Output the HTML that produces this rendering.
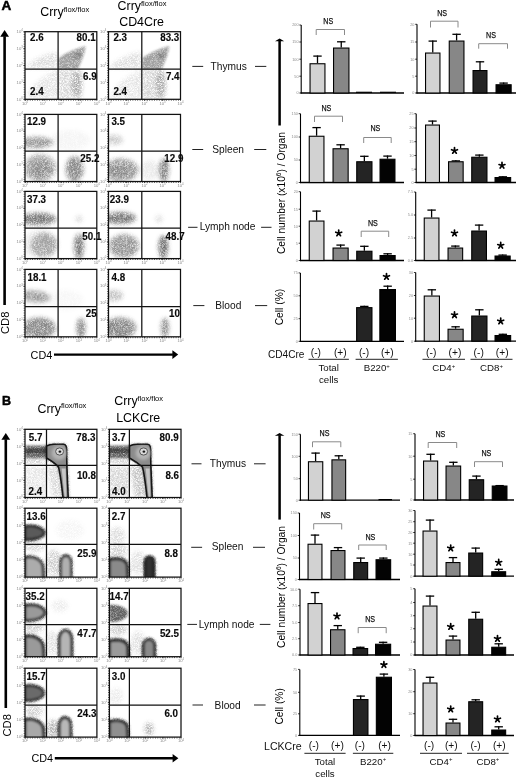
<!DOCTYPE html>
<html><head><meta charset="utf-8"><title>Figure</title>
<style>
html,body{margin:0;padding:0;background:#fff;}
body{width:520px;height:777px;overflow:hidden;}
svg{display:block;font-family:"Liberation Sans", sans-serif;will-change:transform;}
</style></head>
<body>
<svg width="520" height="777" viewBox="0 0 520 777" font-family='"Liberation Sans", sans-serif'>

<defs>
  <filter id="sp" x="-60%" y="-60%" width="220%" height="220%" color-interpolation-filters="sRGB">
    <feGaussianBlur in="SourceGraphic" stdDeviation="2.2" result="bl"/>
    <feTurbulence type="fractalNoise" baseFrequency="2.2" numOctaves="2" seed="11" result="nz"/>
    <feColorMatrix in="nz" type="matrix" values="0 0 0 0 0  0 0 0 0 0  0 0 0 0 0  0 0 0 2.5 -0.6" result="nm"/>
    <feComposite in="bl" in2="nm" operator="in"/>
  </filter>
  <filter id="sp1" x="-60%" y="-60%" width="220%" height="220%" color-interpolation-filters="sRGB">
    <feGaussianBlur in="SourceGraphic" stdDeviation="1.1" result="bl"/>
    <feTurbulence type="fractalNoise" baseFrequency="2.2" numOctaves="2" seed="5" result="nz"/>
    <feColorMatrix in="nz" type="matrix" values="0 0 0 0 0  0 0 0 0 0  0 0 0 0 0  0 0 0 2.5 -0.6" result="nm"/>
    <feComposite in="bl" in2="nm" operator="in"/>
  </filter>
  <filter id="spS" x="-60%" y="-60%" width="220%" height="220%" color-interpolation-filters="sRGB">
    <feGaussianBlur in="SourceGraphic" stdDeviation="0.9" result="bl"/>
    <feTurbulence type="fractalNoise" baseFrequency="1.6" numOctaves="2" seed="17" result="nz"/>
    <feColorMatrix in="nz" type="matrix" values="0 0 0 0 0  0 0 0 0 0  0 0 0 0 0  0 0 0 1.6 0.1" result="nm"/>
    <feComposite in="bl" in2="nm" operator="in"/>
  </filter>
  <filter id="spA" x="-60%" y="-60%" width="220%" height="220%" color-interpolation-filters="sRGB">
    <feGaussianBlur in="SourceGraphic" stdDeviation="1.9" result="bl"/>
    <feTurbulence type="fractalNoise" baseFrequency="1.9" numOctaves="2" seed="23" result="nz"/>
    <feColorMatrix in="nz" type="matrix" values="0 0 0 0 0  0 0 0 0 0  0 0 0 0 0  0 0 0 1.6 0.0" result="nm"/>
    <feComposite in="bl" in2="nm" operator="in"/>
  </filter>
  <filter id="spM" x="-60%" y="-60%" width="220%" height="220%" color-interpolation-filters="sRGB">
    <feGaussianBlur in="SourceGraphic" stdDeviation="1.3" result="bl"/>
    <feTurbulence type="fractalNoise" baseFrequency="1.4" numOctaves="2" seed="29" result="nz"/>
    <feColorMatrix in="nz" type="matrix" values="0 0 0 0 0  0 0 0 0 0  0 0 0 0 0  0 0 0 1.3 0.25" result="nm"/>
    <feComposite in="bl" in2="nm" operator="in"/>
  </filter>
  <filter id="sb" x="-60%" y="-60%" width="220%" height="220%">
    <feGaussianBlur stdDeviation="2.2"/>
  </filter>
  <filter id="sb1" x="-60%" y="-60%" width="220%" height="220%">
    <feGaussianBlur stdDeviation="1.6"/>
  </filter>
  <filter id="cb2" x="-20%" y="-20%" width="140%" height="140%">
    <feGaussianBlur stdDeviation="0.8"/>
  </filter>
  <filter id="cb" x="-20%" y="-20%" width="140%" height="140%">
    <feGaussianBlur stdDeviation="0.6"/>
  </filter>
</defs>

<defs><clipPath id="cl0"><rect x="25.00" y="31.70" width="71.80" height="67.60"/></clipPath><clipPath id="cl1"><rect x="108.50" y="31.70" width="72.00" height="67.60"/></clipPath><clipPath id="cl2"><rect x="25.00" y="114.40" width="71.80" height="67.10"/></clipPath><clipPath id="cl3"><rect x="108.50" y="114.40" width="72.00" height="67.10"/></clipPath><clipPath id="cl4"><rect x="25.00" y="191.40" width="71.80" height="67.20"/></clipPath><clipPath id="cl5"><rect x="108.50" y="191.40" width="72.00" height="67.20"/></clipPath><clipPath id="cl6"><rect x="25.00" y="269.40" width="71.80" height="67.40"/></clipPath><clipPath id="cl7"><rect x="108.50" y="269.40" width="72.00" height="67.40"/></clipPath><clipPath id="cl8"><rect x="25.00" y="429.30" width="71.90" height="68.20"/></clipPath><clipPath id="cl9"><rect x="109.40" y="429.30" width="71.60" height="68.20"/></clipPath><clipPath id="cl10"><rect x="25.00" y="508.20" width="71.90" height="68.90"/></clipPath><clipPath id="cl11"><rect x="109.40" y="508.20" width="71.60" height="68.90"/></clipPath><clipPath id="cl12"><rect x="25.00" y="588.30" width="71.90" height="68.40"/></clipPath><clipPath id="cl13"><rect x="109.40" y="588.30" width="71.60" height="68.40"/></clipPath><clipPath id="cl14"><rect x="25.00" y="668.20" width="71.90" height="68.90"/></clipPath><clipPath id="cl15"><rect x="109.40" y="668.20" width="71.60" height="68.90"/></clipPath></defs>
<rect width="520" height="777" fill="#fff"/>
<text x="1.50" y="9.80" font-size="13.5" font-weight="bold" text-anchor="start" fill="#000" stroke="#000" stroke-width="0.5">A</text>
<text x="40.3" y="16.4" font-size="12.4">Crry<tspan font-size="7.5" dy="-4.4">flox/flox</tspan></text>
<text x="117.6" y="10.1" font-size="12.4">Crry<tspan font-size="7.5" dy="-4.4">flox/flox</tspan></text>
<text x="119.20" y="25.60" font-size="12.4" font-weight="normal" text-anchor="start" fill="#000" >CD4Cre</text>
<line x1="4.60" y1="36.30" x2="4.60" y2="305.00" stroke="#000" stroke-width="2.6" />
<path d="M0.20,36.80 L4.60,30.00 L9.00,36.80 Z" fill="#000"/>
<text transform="translate(9.4,334) rotate(-90)" font-size="11.2">CD8</text>
<text x="30.60" y="359.30" font-size="10.8" font-weight="normal" text-anchor="start" fill="#000" >CD4</text>
<line x1="54.00" y1="354.60" x2="172.90" y2="354.60" stroke="#000" stroke-width="2.4" />
<path d="M172.40,350.30 L178.20,354.60 L172.40,358.90 Z" fill="#000"/>
<g clip-path="url(#cl0)">
<path d="M58.50,69 L58.50,58.5 C63.00,54.5 73.00,49 85.50,46 C85.50,52 82.00,60 78.00,69 Z" fill="#000" fill-opacity="0.37" filter="url(#spS)"/>
<ellipse cx="77.00" cy="55.5" rx="4.5" ry="3" fill="#000" fill-opacity="0.2" transform="rotate(-25 77.00 55.5)" filter="url(#spS)"/>
<path d="M58.50,69.5 L80.00,69.5 C83.00,78 83.00,90 81.00,99 L58.50,99 Z" fill="#000" fill-opacity="0.17" filter="url(#sp)"/>
<ellipse cx="77.00" cy="84" rx="4.5" ry="13" fill="#000" fill-opacity="0.22" filter="url(#sp)"/>
<path d="M27.00,66 C35.00,58 48.00,53 58.00,52 L58.00,68 L27.00,68 Z" fill="#000" fill-opacity="0.14" filter="url(#sp)"/>
<path d="M26.00,98 C30.00,86 45.00,74 58.00,70 L58.00,98 Z" fill="#000" fill-opacity="0.11" filter="url(#sp)"/>
</g>
<g clip-path="url(#cl1)">
<path d="M142.20,69 L142.20,58.5 C146.70,54.5 156.70,49 169.20,46 C169.20,52 165.70,60 161.70,69 Z" fill="#000" fill-opacity="0.37" filter="url(#spS)"/>
<ellipse cx="160.70" cy="55.5" rx="4.5" ry="3" fill="#000" fill-opacity="0.2" transform="rotate(-25 160.70 55.5)" filter="url(#spS)"/>
<path d="M142.20,69.5 L163.70,69.5 C166.70,78 166.70,90 164.70,99 L142.20,99 Z" fill="#000" fill-opacity="0.17" filter="url(#sp)"/>
<ellipse cx="160.70" cy="84" rx="4.5" ry="13" fill="#000" fill-opacity="0.22" filter="url(#sp)"/>
<path d="M110.70,66 C118.70,58 131.70,53 141.70,52 L141.70,68 L110.70,68 Z" fill="#000" fill-opacity="0.14" filter="url(#sp)"/>
<path d="M109.70,98 C113.70,86 128.70,74 141.70,70 L141.70,98 Z" fill="#000" fill-opacity="0.11" filter="url(#sp)"/>
</g>
<g clip-path="url(#cl2)">
<ellipse cx="36.00" cy="142.50" rx="17.00" ry="5.80" fill="#000" fill-opacity="0.4" transform="rotate(0 36.00 142.50)" filter="url(#spA)"/>
<ellipse cx="40.00" cy="168.00" rx="16.00" ry="13.50" fill="#000" fill-opacity="0.37" transform="rotate(0 40.00 168.00)" filter="url(#spA)"/>
<ellipse cx="41.00" cy="170.00" rx="9.00" ry="8.00" fill="#000" fill-opacity="0.12" transform="rotate(0 41.00 170.00)" filter="url(#spA)"/>
<ellipse cx="74.60" cy="169.00" rx="9.00" ry="12.50" fill="#000" fill-opacity="0.46" transform="rotate(0 74.60 169.00)" filter="url(#spA)"/>
<ellipse cx="70.00" cy="140.00" rx="20.00" ry="10.00" fill="#000" fill-opacity="0.04" transform="rotate(0 70.00 140.00)" filter="url(#spA)"/>
</g>
<g clip-path="url(#cl3)">
<ellipse cx="114.00" cy="140.00" rx="9.00" ry="5.00" fill="#000" fill-opacity="0.2" transform="rotate(0 114.00 140.00)" filter="url(#spA)"/>
<ellipse cx="121.00" cy="170.00" rx="17.00" ry="11.50" fill="#000" fill-opacity="0.4" transform="rotate(0 121.00 170.00)" filter="url(#spA)"/>
<ellipse cx="120.00" cy="171.00" rx="10.00" ry="5.00" fill="#000" fill-opacity="0.12" transform="rotate(0 120.00 171.00)" filter="url(#spA)"/>
<ellipse cx="164.00" cy="170.00" rx="4.80" ry="11.50" fill="#000" fill-opacity="0.52" transform="rotate(0 164.00 170.00)" filter="url(#spA)"/>
<ellipse cx="150.00" cy="170.00" rx="10.00" ry="10.00" fill="#000" fill-opacity="0.08" transform="rotate(0 150.00 170.00)" filter="url(#spA)"/>
</g>
<g clip-path="url(#cl4)">
<ellipse cx="38.00" cy="219.00" rx="18.00" ry="6.20" fill="#000" fill-opacity="0.52" transform="rotate(0 38.00 219.00)" filter="url(#spA)"/>
<ellipse cx="44.00" cy="245.00" rx="13.00" ry="12.00" fill="#000" fill-opacity="0.3" transform="rotate(0 44.00 245.00)" filter="url(#spA)"/>
<ellipse cx="40.00" cy="244.00" rx="18.00" ry="14.00" fill="#000" fill-opacity="0.08" transform="rotate(0 40.00 244.00)" filter="url(#spA)"/>
<ellipse cx="79.00" cy="246.50" rx="5.00" ry="12.50" fill="#000" fill-opacity="0.52" transform="rotate(0 79.00 246.50)" filter="url(#spA)"/>
<ellipse cx="79.00" cy="219.00" rx="3.50" ry="3.50" fill="#000" fill-opacity="0.14" transform="rotate(0 79.00 219.00)" filter="url(#spA)"/>
</g>
<g clip-path="url(#cl5)">
<ellipse cx="120.00" cy="218.00" rx="16.00" ry="6.00" fill="#000" fill-opacity="0.52" transform="rotate(0 120.00 218.00)" filter="url(#spA)"/>
<ellipse cx="124.00" cy="246.00" rx="15.00" ry="11.50" fill="#000" fill-opacity="0.42" transform="rotate(0 124.00 246.00)" filter="url(#spA)"/>
<ellipse cx="163.30" cy="247.00" rx="4.80" ry="11.50" fill="#000" fill-opacity="0.58" transform="rotate(0 163.30 247.00)" filter="url(#spA)"/>
<ellipse cx="159.00" cy="219.00" rx="3.50" ry="4.00" fill="#000" fill-opacity="0.12" transform="rotate(0 159.00 219.00)" filter="url(#spA)"/>
</g>
<g clip-path="url(#cl6)">
<ellipse cx="35.00" cy="296.50" rx="15.00" ry="6.00" fill="#000" fill-opacity="0.42" transform="rotate(6 35.00 296.50)" filter="url(#spA)"/>
<ellipse cx="39.00" cy="328.00" rx="17.00" ry="10.50" fill="#000" fill-opacity="0.46" transform="rotate(0 39.00 328.00)" filter="url(#spA)"/>
<ellipse cx="81.00" cy="328.00" rx="4.50" ry="10.00" fill="#000" fill-opacity="0.46" transform="rotate(0 81.00 328.00)" filter="url(#spA)"/>
<ellipse cx="65.00" cy="300.00" rx="18.00" ry="10.00" fill="#000" fill-opacity="0.03" transform="rotate(0 65.00 300.00)" filter="url(#spA)"/>
</g>
<g clip-path="url(#cl7)">
<ellipse cx="114.00" cy="295.50" rx="9.00" ry="5.50" fill="#000" fill-opacity="0.24" transform="rotate(0 114.00 295.50)" filter="url(#spA)"/>
<ellipse cx="120.00" cy="328.00" rx="16.00" ry="10.50" fill="#000" fill-opacity="0.47" transform="rotate(0 120.00 328.00)" filter="url(#spA)"/>
<ellipse cx="165.00" cy="328.00" rx="3.80" ry="10.00" fill="#000" fill-opacity="0.48" transform="rotate(0 165.00 328.00)" filter="url(#spA)"/>
</g>
<text x="22.80" y="100.50" font-size="4.2" fill="#8a8a8a" text-anchor="end">10<tspan font-size="2.8" dy="-1.5">0</tspan></text>
<line x1="23.40" y1="99.30" x2="25.00" y2="99.30" stroke="#333" stroke-width="0.8" />
<text x="22.80" y="83.60" font-size="4.2" fill="#8a8a8a" text-anchor="end">10<tspan font-size="2.8" dy="-1.5">1</tspan></text>
<line x1="23.40" y1="82.40" x2="25.00" y2="82.40" stroke="#333" stroke-width="0.8" />
<text x="22.80" y="66.70" font-size="4.2" fill="#8a8a8a" text-anchor="end">10<tspan font-size="2.8" dy="-1.5">2</tspan></text>
<line x1="23.40" y1="65.50" x2="25.00" y2="65.50" stroke="#333" stroke-width="0.8" />
<text x="22.80" y="49.80" font-size="4.2" fill="#8a8a8a" text-anchor="end">10<tspan font-size="2.8" dy="-1.5">3</tspan></text>
<line x1="23.40" y1="48.60" x2="25.00" y2="48.60" stroke="#333" stroke-width="0.8" />
<text x="22.80" y="32.90" font-size="4.2" fill="#8a8a8a" text-anchor="end">10<tspan font-size="2.8" dy="-1.5">4</tspan></text>
<line x1="23.40" y1="31.70" x2="25.00" y2="31.70" stroke="#333" stroke-width="0.8" />
<text x="25.00" y="104.50" font-size="4.2" fill="#8a8a8a" text-anchor="middle">10<tspan font-size="2.8" dy="-1.5">0</tspan></text>
<line x1="25.00" y1="99.30" x2="25.00" y2="100.90" stroke="#333" stroke-width="0.8" />
<text x="42.95" y="104.50" font-size="4.2" fill="#8a8a8a" text-anchor="middle">10<tspan font-size="2.8" dy="-1.5">1</tspan></text>
<line x1="42.95" y1="99.30" x2="42.95" y2="100.90" stroke="#333" stroke-width="0.8" />
<text x="60.90" y="104.50" font-size="4.2" fill="#8a8a8a" text-anchor="middle">10<tspan font-size="2.8" dy="-1.5">2</tspan></text>
<line x1="60.90" y1="99.30" x2="60.90" y2="100.90" stroke="#333" stroke-width="0.8" />
<text x="78.85" y="104.50" font-size="4.2" fill="#8a8a8a" text-anchor="middle">10<tspan font-size="2.8" dy="-1.5">3</tspan></text>
<line x1="78.85" y1="99.30" x2="78.85" y2="100.90" stroke="#333" stroke-width="0.8" />
<text x="96.80" y="104.50" font-size="4.2" fill="#8a8a8a" text-anchor="middle">10<tspan font-size="2.8" dy="-1.5">4</tspan></text>
<line x1="96.80" y1="99.30" x2="96.80" y2="100.90" stroke="#333" stroke-width="0.8" />
<line x1="24.20" y1="31.70" x2="24.20" y2="99.30" stroke="#222" stroke-width="0.9" stroke-dasharray="0.8 1.6"/>
<line x1="25.00" y1="100.20" x2="96.80" y2="100.20" stroke="#222" stroke-width="0.9" stroke-dasharray="0.8 1.6"/>
<rect x="25.00" y="31.70" width="71.80" height="67.60" fill="none" stroke="#111" stroke-width="1.25" />
<line x1="58.10" y1="31.70" x2="58.10" y2="99.30" stroke="#111" stroke-width="1.25" />
<line x1="25.00" y1="69.20" x2="96.80" y2="69.20" stroke="#111" stroke-width="1.25" />
<text x="106.30" y="100.50" font-size="4.2" fill="#8a8a8a" text-anchor="end">10<tspan font-size="2.8" dy="-1.5">0</tspan></text>
<line x1="106.90" y1="99.30" x2="108.50" y2="99.30" stroke="#333" stroke-width="0.8" />
<text x="106.30" y="83.60" font-size="4.2" fill="#8a8a8a" text-anchor="end">10<tspan font-size="2.8" dy="-1.5">1</tspan></text>
<line x1="106.90" y1="82.40" x2="108.50" y2="82.40" stroke="#333" stroke-width="0.8" />
<text x="106.30" y="66.70" font-size="4.2" fill="#8a8a8a" text-anchor="end">10<tspan font-size="2.8" dy="-1.5">2</tspan></text>
<line x1="106.90" y1="65.50" x2="108.50" y2="65.50" stroke="#333" stroke-width="0.8" />
<text x="106.30" y="49.80" font-size="4.2" fill="#8a8a8a" text-anchor="end">10<tspan font-size="2.8" dy="-1.5">3</tspan></text>
<line x1="106.90" y1="48.60" x2="108.50" y2="48.60" stroke="#333" stroke-width="0.8" />
<text x="106.30" y="32.90" font-size="4.2" fill="#8a8a8a" text-anchor="end">10<tspan font-size="2.8" dy="-1.5">4</tspan></text>
<line x1="106.90" y1="31.70" x2="108.50" y2="31.70" stroke="#333" stroke-width="0.8" />
<text x="108.50" y="104.50" font-size="4.2" fill="#8a8a8a" text-anchor="middle">10<tspan font-size="2.8" dy="-1.5">0</tspan></text>
<line x1="108.50" y1="99.30" x2="108.50" y2="100.90" stroke="#333" stroke-width="0.8" />
<text x="126.50" y="104.50" font-size="4.2" fill="#8a8a8a" text-anchor="middle">10<tspan font-size="2.8" dy="-1.5">1</tspan></text>
<line x1="126.50" y1="99.30" x2="126.50" y2="100.90" stroke="#333" stroke-width="0.8" />
<text x="144.50" y="104.50" font-size="4.2" fill="#8a8a8a" text-anchor="middle">10<tspan font-size="2.8" dy="-1.5">2</tspan></text>
<line x1="144.50" y1="99.30" x2="144.50" y2="100.90" stroke="#333" stroke-width="0.8" />
<text x="162.50" y="104.50" font-size="4.2" fill="#8a8a8a" text-anchor="middle">10<tspan font-size="2.8" dy="-1.5">3</tspan></text>
<line x1="162.50" y1="99.30" x2="162.50" y2="100.90" stroke="#333" stroke-width="0.8" />
<text x="180.50" y="104.50" font-size="4.2" fill="#8a8a8a" text-anchor="middle">10<tspan font-size="2.8" dy="-1.5">4</tspan></text>
<line x1="180.50" y1="99.30" x2="180.50" y2="100.90" stroke="#333" stroke-width="0.8" />
<line x1="107.70" y1="31.70" x2="107.70" y2="99.30" stroke="#222" stroke-width="0.9" stroke-dasharray="0.8 1.6"/>
<line x1="108.50" y1="100.20" x2="180.50" y2="100.20" stroke="#222" stroke-width="0.9" stroke-dasharray="0.8 1.6"/>
<rect x="108.50" y="31.70" width="72.00" height="67.60" fill="none" stroke="#111" stroke-width="1.25" />
<line x1="141.80" y1="31.70" x2="141.80" y2="99.30" stroke="#111" stroke-width="1.25" />
<line x1="108.50" y1="69.20" x2="180.50" y2="69.20" stroke="#111" stroke-width="1.25" />
<text x="22.80" y="182.70" font-size="4.2" fill="#8a8a8a" text-anchor="end">10<tspan font-size="2.8" dy="-1.5">0</tspan></text>
<line x1="23.40" y1="181.50" x2="25.00" y2="181.50" stroke="#333" stroke-width="0.8" />
<text x="22.80" y="165.92" font-size="4.2" fill="#8a8a8a" text-anchor="end">10<tspan font-size="2.8" dy="-1.5">1</tspan></text>
<line x1="23.40" y1="164.72" x2="25.00" y2="164.72" stroke="#333" stroke-width="0.8" />
<text x="22.80" y="149.15" font-size="4.2" fill="#8a8a8a" text-anchor="end">10<tspan font-size="2.8" dy="-1.5">2</tspan></text>
<line x1="23.40" y1="147.95" x2="25.00" y2="147.95" stroke="#333" stroke-width="0.8" />
<text x="22.80" y="132.38" font-size="4.2" fill="#8a8a8a" text-anchor="end">10<tspan font-size="2.8" dy="-1.5">3</tspan></text>
<line x1="23.40" y1="131.18" x2="25.00" y2="131.18" stroke="#333" stroke-width="0.8" />
<text x="22.80" y="115.60" font-size="4.2" fill="#8a8a8a" text-anchor="end">10<tspan font-size="2.8" dy="-1.5">4</tspan></text>
<line x1="23.40" y1="114.40" x2="25.00" y2="114.40" stroke="#333" stroke-width="0.8" />
<text x="25.00" y="186.70" font-size="4.2" fill="#8a8a8a" text-anchor="middle">10<tspan font-size="2.8" dy="-1.5">0</tspan></text>
<line x1="25.00" y1="181.50" x2="25.00" y2="183.10" stroke="#333" stroke-width="0.8" />
<text x="42.95" y="186.70" font-size="4.2" fill="#8a8a8a" text-anchor="middle">10<tspan font-size="2.8" dy="-1.5">1</tspan></text>
<line x1="42.95" y1="181.50" x2="42.95" y2="183.10" stroke="#333" stroke-width="0.8" />
<text x="60.90" y="186.70" font-size="4.2" fill="#8a8a8a" text-anchor="middle">10<tspan font-size="2.8" dy="-1.5">2</tspan></text>
<line x1="60.90" y1="181.50" x2="60.90" y2="183.10" stroke="#333" stroke-width="0.8" />
<text x="78.85" y="186.70" font-size="4.2" fill="#8a8a8a" text-anchor="middle">10<tspan font-size="2.8" dy="-1.5">3</tspan></text>
<line x1="78.85" y1="181.50" x2="78.85" y2="183.10" stroke="#333" stroke-width="0.8" />
<text x="96.80" y="186.70" font-size="4.2" fill="#8a8a8a" text-anchor="middle">10<tspan font-size="2.8" dy="-1.5">4</tspan></text>
<line x1="96.80" y1="181.50" x2="96.80" y2="183.10" stroke="#333" stroke-width="0.8" />
<line x1="24.20" y1="114.40" x2="24.20" y2="181.50" stroke="#222" stroke-width="0.9" stroke-dasharray="0.8 1.6"/>
<line x1="25.00" y1="182.40" x2="96.80" y2="182.40" stroke="#222" stroke-width="0.9" stroke-dasharray="0.8 1.6"/>
<rect x="25.00" y="114.40" width="71.80" height="67.10" fill="none" stroke="#111" stroke-width="1.25" />
<line x1="58.10" y1="114.40" x2="58.10" y2="181.50" stroke="#111" stroke-width="1.25" />
<line x1="25.00" y1="151.10" x2="96.80" y2="151.10" stroke="#111" stroke-width="1.25" />
<text x="106.30" y="182.70" font-size="4.2" fill="#8a8a8a" text-anchor="end">10<tspan font-size="2.8" dy="-1.5">0</tspan></text>
<line x1="106.90" y1="181.50" x2="108.50" y2="181.50" stroke="#333" stroke-width="0.8" />
<text x="106.30" y="165.92" font-size="4.2" fill="#8a8a8a" text-anchor="end">10<tspan font-size="2.8" dy="-1.5">1</tspan></text>
<line x1="106.90" y1="164.72" x2="108.50" y2="164.72" stroke="#333" stroke-width="0.8" />
<text x="106.30" y="149.15" font-size="4.2" fill="#8a8a8a" text-anchor="end">10<tspan font-size="2.8" dy="-1.5">2</tspan></text>
<line x1="106.90" y1="147.95" x2="108.50" y2="147.95" stroke="#333" stroke-width="0.8" />
<text x="106.30" y="132.38" font-size="4.2" fill="#8a8a8a" text-anchor="end">10<tspan font-size="2.8" dy="-1.5">3</tspan></text>
<line x1="106.90" y1="131.18" x2="108.50" y2="131.18" stroke="#333" stroke-width="0.8" />
<text x="106.30" y="115.60" font-size="4.2" fill="#8a8a8a" text-anchor="end">10<tspan font-size="2.8" dy="-1.5">4</tspan></text>
<line x1="106.90" y1="114.40" x2="108.50" y2="114.40" stroke="#333" stroke-width="0.8" />
<text x="108.50" y="186.70" font-size="4.2" fill="#8a8a8a" text-anchor="middle">10<tspan font-size="2.8" dy="-1.5">0</tspan></text>
<line x1="108.50" y1="181.50" x2="108.50" y2="183.10" stroke="#333" stroke-width="0.8" />
<text x="126.50" y="186.70" font-size="4.2" fill="#8a8a8a" text-anchor="middle">10<tspan font-size="2.8" dy="-1.5">1</tspan></text>
<line x1="126.50" y1="181.50" x2="126.50" y2="183.10" stroke="#333" stroke-width="0.8" />
<text x="144.50" y="186.70" font-size="4.2" fill="#8a8a8a" text-anchor="middle">10<tspan font-size="2.8" dy="-1.5">2</tspan></text>
<line x1="144.50" y1="181.50" x2="144.50" y2="183.10" stroke="#333" stroke-width="0.8" />
<text x="162.50" y="186.70" font-size="4.2" fill="#8a8a8a" text-anchor="middle">10<tspan font-size="2.8" dy="-1.5">3</tspan></text>
<line x1="162.50" y1="181.50" x2="162.50" y2="183.10" stroke="#333" stroke-width="0.8" />
<text x="180.50" y="186.70" font-size="4.2" fill="#8a8a8a" text-anchor="middle">10<tspan font-size="2.8" dy="-1.5">4</tspan></text>
<line x1="180.50" y1="181.50" x2="180.50" y2="183.10" stroke="#333" stroke-width="0.8" />
<line x1="107.70" y1="114.40" x2="107.70" y2="181.50" stroke="#222" stroke-width="0.9" stroke-dasharray="0.8 1.6"/>
<line x1="108.50" y1="182.40" x2="180.50" y2="182.40" stroke="#222" stroke-width="0.9" stroke-dasharray="0.8 1.6"/>
<rect x="108.50" y="114.40" width="72.00" height="67.10" fill="none" stroke="#111" stroke-width="1.25" />
<line x1="141.80" y1="114.40" x2="141.80" y2="181.50" stroke="#111" stroke-width="1.25" />
<line x1="108.50" y1="151.10" x2="180.50" y2="151.10" stroke="#111" stroke-width="1.25" />
<text x="22.80" y="259.80" font-size="4.2" fill="#8a8a8a" text-anchor="end">10<tspan font-size="2.8" dy="-1.5">0</tspan></text>
<line x1="23.40" y1="258.60" x2="25.00" y2="258.60" stroke="#333" stroke-width="0.8" />
<text x="22.80" y="243.00" font-size="4.2" fill="#8a8a8a" text-anchor="end">10<tspan font-size="2.8" dy="-1.5">1</tspan></text>
<line x1="23.40" y1="241.80" x2="25.00" y2="241.80" stroke="#333" stroke-width="0.8" />
<text x="22.80" y="226.20" font-size="4.2" fill="#8a8a8a" text-anchor="end">10<tspan font-size="2.8" dy="-1.5">2</tspan></text>
<line x1="23.40" y1="225.00" x2="25.00" y2="225.00" stroke="#333" stroke-width="0.8" />
<text x="22.80" y="209.40" font-size="4.2" fill="#8a8a8a" text-anchor="end">10<tspan font-size="2.8" dy="-1.5">3</tspan></text>
<line x1="23.40" y1="208.20" x2="25.00" y2="208.20" stroke="#333" stroke-width="0.8" />
<text x="22.80" y="192.60" font-size="4.2" fill="#8a8a8a" text-anchor="end">10<tspan font-size="2.8" dy="-1.5">4</tspan></text>
<line x1="23.40" y1="191.40" x2="25.00" y2="191.40" stroke="#333" stroke-width="0.8" />
<text x="25.00" y="263.80" font-size="4.2" fill="#8a8a8a" text-anchor="middle">10<tspan font-size="2.8" dy="-1.5">0</tspan></text>
<line x1="25.00" y1="258.60" x2="25.00" y2="260.20" stroke="#333" stroke-width="0.8" />
<text x="42.95" y="263.80" font-size="4.2" fill="#8a8a8a" text-anchor="middle">10<tspan font-size="2.8" dy="-1.5">1</tspan></text>
<line x1="42.95" y1="258.60" x2="42.95" y2="260.20" stroke="#333" stroke-width="0.8" />
<text x="60.90" y="263.80" font-size="4.2" fill="#8a8a8a" text-anchor="middle">10<tspan font-size="2.8" dy="-1.5">2</tspan></text>
<line x1="60.90" y1="258.60" x2="60.90" y2="260.20" stroke="#333" stroke-width="0.8" />
<text x="78.85" y="263.80" font-size="4.2" fill="#8a8a8a" text-anchor="middle">10<tspan font-size="2.8" dy="-1.5">3</tspan></text>
<line x1="78.85" y1="258.60" x2="78.85" y2="260.20" stroke="#333" stroke-width="0.8" />
<text x="96.80" y="263.80" font-size="4.2" fill="#8a8a8a" text-anchor="middle">10<tspan font-size="2.8" dy="-1.5">4</tspan></text>
<line x1="96.80" y1="258.60" x2="96.80" y2="260.20" stroke="#333" stroke-width="0.8" />
<line x1="24.20" y1="191.40" x2="24.20" y2="258.60" stroke="#222" stroke-width="0.9" stroke-dasharray="0.8 1.6"/>
<line x1="25.00" y1="259.50" x2="96.80" y2="259.50" stroke="#222" stroke-width="0.9" stroke-dasharray="0.8 1.6"/>
<rect x="25.00" y="191.40" width="71.80" height="67.20" fill="none" stroke="#111" stroke-width="1.25" />
<line x1="58.10" y1="191.40" x2="58.10" y2="258.60" stroke="#111" stroke-width="1.25" />
<line x1="25.00" y1="228.20" x2="96.80" y2="228.20" stroke="#111" stroke-width="1.25" />
<text x="106.30" y="259.80" font-size="4.2" fill="#8a8a8a" text-anchor="end">10<tspan font-size="2.8" dy="-1.5">0</tspan></text>
<line x1="106.90" y1="258.60" x2="108.50" y2="258.60" stroke="#333" stroke-width="0.8" />
<text x="106.30" y="243.00" font-size="4.2" fill="#8a8a8a" text-anchor="end">10<tspan font-size="2.8" dy="-1.5">1</tspan></text>
<line x1="106.90" y1="241.80" x2="108.50" y2="241.80" stroke="#333" stroke-width="0.8" />
<text x="106.30" y="226.20" font-size="4.2" fill="#8a8a8a" text-anchor="end">10<tspan font-size="2.8" dy="-1.5">2</tspan></text>
<line x1="106.90" y1="225.00" x2="108.50" y2="225.00" stroke="#333" stroke-width="0.8" />
<text x="106.30" y="209.40" font-size="4.2" fill="#8a8a8a" text-anchor="end">10<tspan font-size="2.8" dy="-1.5">3</tspan></text>
<line x1="106.90" y1="208.20" x2="108.50" y2="208.20" stroke="#333" stroke-width="0.8" />
<text x="106.30" y="192.60" font-size="4.2" fill="#8a8a8a" text-anchor="end">10<tspan font-size="2.8" dy="-1.5">4</tspan></text>
<line x1="106.90" y1="191.40" x2="108.50" y2="191.40" stroke="#333" stroke-width="0.8" />
<text x="108.50" y="263.80" font-size="4.2" fill="#8a8a8a" text-anchor="middle">10<tspan font-size="2.8" dy="-1.5">0</tspan></text>
<line x1="108.50" y1="258.60" x2="108.50" y2="260.20" stroke="#333" stroke-width="0.8" />
<text x="126.50" y="263.80" font-size="4.2" fill="#8a8a8a" text-anchor="middle">10<tspan font-size="2.8" dy="-1.5">1</tspan></text>
<line x1="126.50" y1="258.60" x2="126.50" y2="260.20" stroke="#333" stroke-width="0.8" />
<text x="144.50" y="263.80" font-size="4.2" fill="#8a8a8a" text-anchor="middle">10<tspan font-size="2.8" dy="-1.5">2</tspan></text>
<line x1="144.50" y1="258.60" x2="144.50" y2="260.20" stroke="#333" stroke-width="0.8" />
<text x="162.50" y="263.80" font-size="4.2" fill="#8a8a8a" text-anchor="middle">10<tspan font-size="2.8" dy="-1.5">3</tspan></text>
<line x1="162.50" y1="258.60" x2="162.50" y2="260.20" stroke="#333" stroke-width="0.8" />
<text x="180.50" y="263.80" font-size="4.2" fill="#8a8a8a" text-anchor="middle">10<tspan font-size="2.8" dy="-1.5">4</tspan></text>
<line x1="180.50" y1="258.60" x2="180.50" y2="260.20" stroke="#333" stroke-width="0.8" />
<line x1="107.70" y1="191.40" x2="107.70" y2="258.60" stroke="#222" stroke-width="0.9" stroke-dasharray="0.8 1.6"/>
<line x1="108.50" y1="259.50" x2="180.50" y2="259.50" stroke="#222" stroke-width="0.9" stroke-dasharray="0.8 1.6"/>
<rect x="108.50" y="191.40" width="72.00" height="67.20" fill="none" stroke="#111" stroke-width="1.25" />
<line x1="141.80" y1="191.40" x2="141.80" y2="258.60" stroke="#111" stroke-width="1.25" />
<line x1="108.50" y1="228.20" x2="180.50" y2="228.20" stroke="#111" stroke-width="1.25" />
<text x="22.80" y="338.00" font-size="4.2" fill="#8a8a8a" text-anchor="end">10<tspan font-size="2.8" dy="-1.5">0</tspan></text>
<line x1="23.40" y1="336.80" x2="25.00" y2="336.80" stroke="#333" stroke-width="0.8" />
<text x="22.80" y="321.15" font-size="4.2" fill="#8a8a8a" text-anchor="end">10<tspan font-size="2.8" dy="-1.5">1</tspan></text>
<line x1="23.40" y1="319.95" x2="25.00" y2="319.95" stroke="#333" stroke-width="0.8" />
<text x="22.80" y="304.30" font-size="4.2" fill="#8a8a8a" text-anchor="end">10<tspan font-size="2.8" dy="-1.5">2</tspan></text>
<line x1="23.40" y1="303.10" x2="25.00" y2="303.10" stroke="#333" stroke-width="0.8" />
<text x="22.80" y="287.45" font-size="4.2" fill="#8a8a8a" text-anchor="end">10<tspan font-size="2.8" dy="-1.5">3</tspan></text>
<line x1="23.40" y1="286.25" x2="25.00" y2="286.25" stroke="#333" stroke-width="0.8" />
<text x="22.80" y="270.60" font-size="4.2" fill="#8a8a8a" text-anchor="end">10<tspan font-size="2.8" dy="-1.5">4</tspan></text>
<line x1="23.40" y1="269.40" x2="25.00" y2="269.40" stroke="#333" stroke-width="0.8" />
<text x="25.00" y="342.00" font-size="4.2" fill="#8a8a8a" text-anchor="middle">10<tspan font-size="2.8" dy="-1.5">0</tspan></text>
<line x1="25.00" y1="336.80" x2="25.00" y2="338.40" stroke="#333" stroke-width="0.8" />
<text x="42.95" y="342.00" font-size="4.2" fill="#8a8a8a" text-anchor="middle">10<tspan font-size="2.8" dy="-1.5">1</tspan></text>
<line x1="42.95" y1="336.80" x2="42.95" y2="338.40" stroke="#333" stroke-width="0.8" />
<text x="60.90" y="342.00" font-size="4.2" fill="#8a8a8a" text-anchor="middle">10<tspan font-size="2.8" dy="-1.5">2</tspan></text>
<line x1="60.90" y1="336.80" x2="60.90" y2="338.40" stroke="#333" stroke-width="0.8" />
<text x="78.85" y="342.00" font-size="4.2" fill="#8a8a8a" text-anchor="middle">10<tspan font-size="2.8" dy="-1.5">3</tspan></text>
<line x1="78.85" y1="336.80" x2="78.85" y2="338.40" stroke="#333" stroke-width="0.8" />
<text x="96.80" y="342.00" font-size="4.2" fill="#8a8a8a" text-anchor="middle">10<tspan font-size="2.8" dy="-1.5">4</tspan></text>
<line x1="96.80" y1="336.80" x2="96.80" y2="338.40" stroke="#333" stroke-width="0.8" />
<line x1="24.20" y1="269.40" x2="24.20" y2="336.80" stroke="#222" stroke-width="0.9" stroke-dasharray="0.8 1.6"/>
<line x1="25.00" y1="337.70" x2="96.80" y2="337.70" stroke="#222" stroke-width="0.9" stroke-dasharray="0.8 1.6"/>
<rect x="25.00" y="269.40" width="71.80" height="67.40" fill="none" stroke="#111" stroke-width="1.25" />
<line x1="58.10" y1="269.40" x2="58.10" y2="336.80" stroke="#111" stroke-width="1.25" />
<line x1="25.00" y1="306.50" x2="96.80" y2="306.50" stroke="#111" stroke-width="1.25" />
<text x="106.30" y="338.00" font-size="4.2" fill="#8a8a8a" text-anchor="end">10<tspan font-size="2.8" dy="-1.5">0</tspan></text>
<line x1="106.90" y1="336.80" x2="108.50" y2="336.80" stroke="#333" stroke-width="0.8" />
<text x="106.30" y="321.15" font-size="4.2" fill="#8a8a8a" text-anchor="end">10<tspan font-size="2.8" dy="-1.5">1</tspan></text>
<line x1="106.90" y1="319.95" x2="108.50" y2="319.95" stroke="#333" stroke-width="0.8" />
<text x="106.30" y="304.30" font-size="4.2" fill="#8a8a8a" text-anchor="end">10<tspan font-size="2.8" dy="-1.5">2</tspan></text>
<line x1="106.90" y1="303.10" x2="108.50" y2="303.10" stroke="#333" stroke-width="0.8" />
<text x="106.30" y="287.45" font-size="4.2" fill="#8a8a8a" text-anchor="end">10<tspan font-size="2.8" dy="-1.5">3</tspan></text>
<line x1="106.90" y1="286.25" x2="108.50" y2="286.25" stroke="#333" stroke-width="0.8" />
<text x="106.30" y="270.60" font-size="4.2" fill="#8a8a8a" text-anchor="end">10<tspan font-size="2.8" dy="-1.5">4</tspan></text>
<line x1="106.90" y1="269.40" x2="108.50" y2="269.40" stroke="#333" stroke-width="0.8" />
<text x="108.50" y="342.00" font-size="4.2" fill="#8a8a8a" text-anchor="middle">10<tspan font-size="2.8" dy="-1.5">0</tspan></text>
<line x1="108.50" y1="336.80" x2="108.50" y2="338.40" stroke="#333" stroke-width="0.8" />
<text x="126.50" y="342.00" font-size="4.2" fill="#8a8a8a" text-anchor="middle">10<tspan font-size="2.8" dy="-1.5">1</tspan></text>
<line x1="126.50" y1="336.80" x2="126.50" y2="338.40" stroke="#333" stroke-width="0.8" />
<text x="144.50" y="342.00" font-size="4.2" fill="#8a8a8a" text-anchor="middle">10<tspan font-size="2.8" dy="-1.5">2</tspan></text>
<line x1="144.50" y1="336.80" x2="144.50" y2="338.40" stroke="#333" stroke-width="0.8" />
<text x="162.50" y="342.00" font-size="4.2" fill="#8a8a8a" text-anchor="middle">10<tspan font-size="2.8" dy="-1.5">3</tspan></text>
<line x1="162.50" y1="336.80" x2="162.50" y2="338.40" stroke="#333" stroke-width="0.8" />
<text x="180.50" y="342.00" font-size="4.2" fill="#8a8a8a" text-anchor="middle">10<tspan font-size="2.8" dy="-1.5">4</tspan></text>
<line x1="180.50" y1="336.80" x2="180.50" y2="338.40" stroke="#333" stroke-width="0.8" />
<line x1="107.70" y1="269.40" x2="107.70" y2="336.80" stroke="#222" stroke-width="0.9" stroke-dasharray="0.8 1.6"/>
<line x1="108.50" y1="337.70" x2="180.50" y2="337.70" stroke="#222" stroke-width="0.9" stroke-dasharray="0.8 1.6"/>
<rect x="108.50" y="269.40" width="72.00" height="67.40" fill="none" stroke="#111" stroke-width="1.25" />
<line x1="141.80" y1="269.40" x2="141.80" y2="336.80" stroke="#111" stroke-width="1.25" />
<line x1="108.50" y1="306.50" x2="180.50" y2="306.50" stroke="#111" stroke-width="1.25" />
<text x="30.00" y="41.30" font-size="10.6" font-weight="bold" text-anchor="start" fill="#0a0a0a" stroke="#0a0a0a" stroke-width="0.15" textLength="13.62" lengthAdjust="spacingAndGlyphs">2.6</text>
<text x="95.60" y="41.30" font-size="10.6" font-weight="bold" text-anchor="end" fill="#0a0a0a" stroke="#0a0a0a" stroke-width="0.15" textLength="19.07" lengthAdjust="spacingAndGlyphs">80.1</text>
<text x="96.60" y="79.90" font-size="10.6" font-weight="bold" text-anchor="end" fill="#0a0a0a" stroke="#0a0a0a" stroke-width="0.15" textLength="13.62" lengthAdjust="spacingAndGlyphs">6.9</text>
<text x="30.00" y="95.30" font-size="10.6" font-weight="bold" text-anchor="start" fill="#0a0a0a" stroke="#0a0a0a" stroke-width="0.15" textLength="13.62" lengthAdjust="spacingAndGlyphs">2.4</text>
<text x="113.40" y="41.30" font-size="10.6" font-weight="bold" text-anchor="start" fill="#0a0a0a" stroke="#0a0a0a" stroke-width="0.15" textLength="13.62" lengthAdjust="spacingAndGlyphs">2.3</text>
<text x="179.30" y="41.30" font-size="10.6" font-weight="bold" text-anchor="end" fill="#0a0a0a" stroke="#0a0a0a" stroke-width="0.15" textLength="19.07" lengthAdjust="spacingAndGlyphs">83.3</text>
<text x="179.50" y="79.90" font-size="10.6" font-weight="bold" text-anchor="end" fill="#0a0a0a" stroke="#0a0a0a" stroke-width="0.15" textLength="13.62" lengthAdjust="spacingAndGlyphs">7.4</text>
<text x="113.40" y="95.30" font-size="10.6" font-weight="bold" text-anchor="start" fill="#0a0a0a" stroke="#0a0a0a" stroke-width="0.15" textLength="13.62" lengthAdjust="spacingAndGlyphs">2.4</text>
<text x="27.00" y="124.70" font-size="10.6" font-weight="bold" text-anchor="start" fill="#0a0a0a" stroke="#0a0a0a" stroke-width="0.15" textLength="19.07" lengthAdjust="spacingAndGlyphs">12.9</text>
<text x="99.40" y="162.30" font-size="10.6" font-weight="bold" text-anchor="end" fill="#0a0a0a" stroke="#0a0a0a" stroke-width="0.15" textLength="19.07" lengthAdjust="spacingAndGlyphs">25.2</text>
<text x="111.40" y="124.70" font-size="10.6" font-weight="bold" text-anchor="start" fill="#0a0a0a" stroke="#0a0a0a" stroke-width="0.15" textLength="13.62" lengthAdjust="spacingAndGlyphs">3.5</text>
<text x="183.40" y="162.30" font-size="10.6" font-weight="bold" text-anchor="end" fill="#0a0a0a" stroke="#0a0a0a" stroke-width="0.15" textLength="19.07" lengthAdjust="spacingAndGlyphs">12.9</text>
<text x="27.00" y="202.60" font-size="10.6" font-weight="bold" text-anchor="start" fill="#0a0a0a" stroke="#0a0a0a" stroke-width="0.15" textLength="19.07" lengthAdjust="spacingAndGlyphs">37.3</text>
<text x="101.40" y="239.60" font-size="10.6" font-weight="bold" text-anchor="end" fill="#0a0a0a" stroke="#0a0a0a" stroke-width="0.15" textLength="19.07" lengthAdjust="spacingAndGlyphs">50.1</text>
<text x="109.80" y="202.60" font-size="10.6" font-weight="bold" text-anchor="start" fill="#0a0a0a" stroke="#0a0a0a" stroke-width="0.15" textLength="19.07" lengthAdjust="spacingAndGlyphs">23.9</text>
<text x="184.60" y="239.60" font-size="10.6" font-weight="bold" text-anchor="end" fill="#0a0a0a" stroke="#0a0a0a" stroke-width="0.15" textLength="19.07" lengthAdjust="spacingAndGlyphs">48.7</text>
<text x="27.50" y="280.50" font-size="10.6" font-weight="bold" text-anchor="start" fill="#0a0a0a" stroke="#0a0a0a" stroke-width="0.15" textLength="19.07" lengthAdjust="spacingAndGlyphs">18.1</text>
<text x="96.60" y="316.90" font-size="10.6" font-weight="bold" text-anchor="end" fill="#0a0a0a" stroke="#0a0a0a" stroke-width="0.15" textLength="10.90" lengthAdjust="spacingAndGlyphs">25</text>
<text x="111.60" y="280.50" font-size="10.6" font-weight="bold" text-anchor="start" fill="#0a0a0a" stroke="#0a0a0a" stroke-width="0.15" textLength="13.62" lengthAdjust="spacingAndGlyphs">4.8</text>
<text x="180.00" y="316.90" font-size="10.6" font-weight="bold" text-anchor="end" fill="#0a0a0a" stroke="#0a0a0a" stroke-width="0.15" textLength="10.90" lengthAdjust="spacingAndGlyphs">10</text>
<line x1="192.30" y1="66.40" x2="203.20" y2="66.40" stroke="#222" stroke-width="1.0" />
<line x1="255.00" y1="66.40" x2="266.30" y2="66.40" stroke="#222" stroke-width="1.0" />
<text x="210.60" y="69.50" font-size="10.2" font-weight="normal" text-anchor="start" fill="#111" >Thymus</text>
<line x1="192.30" y1="149.50" x2="203.20" y2="149.50" stroke="#222" stroke-width="1.0" />
<line x1="254.20" y1="149.50" x2="266.30" y2="149.50" stroke="#222" stroke-width="1.0" />
<text x="212.30" y="152.80" font-size="10.2" font-weight="normal" text-anchor="start" fill="#111" >Spleen</text>
<line x1="188.10" y1="227.30" x2="197.50" y2="227.30" stroke="#222" stroke-width="1.0" />
<line x1="261.10" y1="227.30" x2="271.50" y2="227.30" stroke="#222" stroke-width="1.0" />
<text x="199.70" y="230.40" font-size="10.2" font-weight="normal" text-anchor="start" fill="#111" >Lymph node</text>
<line x1="193.30" y1="305.60" x2="204.40" y2="305.60" stroke="#222" stroke-width="1.0" />
<line x1="255.00" y1="305.60" x2="267.20" y2="305.60" stroke="#222" stroke-width="1.0" />
<text x="215.30" y="309.40" font-size="10.2" font-weight="normal" text-anchor="start" fill="#111" >Blood</text>
<line x1="279.60" y1="40.70" x2="279.60" y2="125.50" stroke="#000" stroke-width="2.5" />
<path d="M275.00,41.20 L279.60,38.40 L284.20,41.20 Z" fill="#000"/>
<text transform="translate(285.0,254.1) rotate(-90)" font-size="11" textLength="122" lengthAdjust="spacingAndGlyphs">Cell number (x10<tspan font-size="7" dy="-4">6</tspan><tspan dy="4">) / Organ</tspan></text>
<text transform="translate(283.3,325.3) rotate(-90)" font-size="11" textLength="36.5" lengthAdjust="spacingAndGlyphs">Cell (%)</text>
<line x1="301.20" y1="25.00" x2="301.20" y2="93.60" stroke="#000" stroke-width="1.1" />
<line x1="300.70" y1="93.00" x2="404.00" y2="93.00" stroke="#000" stroke-width="1.3" />
<line x1="299.40" y1="25.00" x2="301.20" y2="25.00" stroke="#000" stroke-width="0.8" />
<text x="298.60" y="26.30" font-size="3.8" font-weight="normal" text-anchor="end" fill="#8c8c8c" >200</text>
<line x1="299.40" y1="42.00" x2="301.20" y2="42.00" stroke="#000" stroke-width="0.8" />
<text x="298.60" y="43.30" font-size="3.8" font-weight="normal" text-anchor="end" fill="#8c8c8c" >150</text>
<line x1="299.40" y1="59.20" x2="301.20" y2="59.20" stroke="#000" stroke-width="0.8" />
<text x="298.60" y="60.50" font-size="3.8" font-weight="normal" text-anchor="end" fill="#8c8c8c" >100</text>
<line x1="299.40" y1="76.20" x2="301.20" y2="76.20" stroke="#000" stroke-width="0.8" />
<text x="298.60" y="77.50" font-size="3.8" font-weight="normal" text-anchor="end" fill="#8c8c8c" >50</text>
<line x1="299.40" y1="93.00" x2="301.20" y2="93.00" stroke="#000" stroke-width="0.8" />
<text x="298.60" y="94.30" font-size="3.8" font-weight="normal" text-anchor="end" fill="#8c8c8c" >0</text>
<line x1="317.50" y1="55.50" x2="317.50" y2="63.20" stroke="#000" stroke-width="1.3" />
<line x1="313.30" y1="56.10" x2="321.70" y2="56.10" stroke="#000" stroke-width="1.3" />
<rect x="310.05" y="63.75" width="14.90" height="29.25" fill="#d2d2d2" stroke="#000" stroke-width="1.1" />
<line x1="341.25" y1="41.20" x2="341.25" y2="47.50" stroke="#000" stroke-width="1.3" />
<line x1="337.05" y1="41.80" x2="345.45" y2="41.80" stroke="#000" stroke-width="1.3" />
<rect x="333.55" y="48.05" width="15.40" height="44.95" fill="#878787" stroke="#000" stroke-width="1.1" />
<line x1="356.00" y1="92.30" x2="372.00" y2="92.30" stroke="#000" stroke-width="1.2" />
<line x1="380.00" y1="92.30" x2="396.00" y2="92.30" stroke="#000" stroke-width="1.2" />
<path d="M316.20,35.00 L316.20,29.50 L344.50,29.50 L344.50,35.00" fill="none" stroke="#8a8a8a" stroke-width="1.0"/>
<text x="328.25" y="23.80" font-size="8.8" font-weight="normal" text-anchor="middle" fill="#111" stroke="#111" stroke-width="0.25" textLength="9.90" lengthAdjust="spacingAndGlyphs">NS</text>
<line x1="417.00" y1="24.30" x2="417.00" y2="93.60" stroke="#000" stroke-width="1.1" />
<line x1="416.50" y1="93.00" x2="516.00" y2="93.00" stroke="#000" stroke-width="1.3" />
<line x1="415.20" y1="24.30" x2="417.00" y2="24.30" stroke="#000" stroke-width="0.8" />
<text x="414.40" y="25.60" font-size="3.8" font-weight="normal" text-anchor="end" fill="#8c8c8c" >20</text>
<line x1="415.20" y1="42.00" x2="417.00" y2="42.00" stroke="#000" stroke-width="0.8" />
<text x="414.40" y="43.30" font-size="3.8" font-weight="normal" text-anchor="end" fill="#8c8c8c" >15</text>
<line x1="415.20" y1="59.20" x2="417.00" y2="59.20" stroke="#000" stroke-width="0.8" />
<text x="414.40" y="60.50" font-size="3.8" font-weight="normal" text-anchor="end" fill="#8c8c8c" >10</text>
<line x1="415.20" y1="76.20" x2="417.00" y2="76.20" stroke="#000" stroke-width="0.8" />
<text x="414.40" y="77.50" font-size="3.8" font-weight="normal" text-anchor="end" fill="#8c8c8c" >5</text>
<line x1="415.20" y1="93.00" x2="417.00" y2="93.00" stroke="#000" stroke-width="0.8" />
<text x="414.40" y="94.30" font-size="3.8" font-weight="normal" text-anchor="end" fill="#8c8c8c" >0</text>
<line x1="432.75" y1="40.50" x2="432.75" y2="52.50" stroke="#000" stroke-width="1.3" />
<line x1="428.55" y1="41.10" x2="436.95" y2="41.10" stroke="#000" stroke-width="1.3" />
<rect x="425.55" y="53.05" width="14.40" height="39.95" fill="#d2d2d2" stroke="#000" stroke-width="1.1" />
<line x1="456.60" y1="33.70" x2="456.60" y2="40.50" stroke="#000" stroke-width="1.3" />
<line x1="452.40" y1="34.30" x2="460.80" y2="34.30" stroke="#000" stroke-width="1.3" />
<rect x="449.25" y="41.05" width="14.70" height="51.95" fill="#878787" stroke="#000" stroke-width="1.1" />
<line x1="480.00" y1="61.20" x2="480.00" y2="70.00" stroke="#000" stroke-width="1.3" />
<line x1="475.80" y1="61.80" x2="484.20" y2="61.80" stroke="#000" stroke-width="1.3" />
<rect x="473.05" y="70.55" width="13.90" height="22.45" fill="#242424" stroke="#000" stroke-width="1.1" />
<line x1="503.60" y1="82.50" x2="503.60" y2="84.20" stroke="#000" stroke-width="1.3" />
<line x1="499.40" y1="83.10" x2="507.80" y2="83.10" stroke="#000" stroke-width="1.3" />
<rect x="496.05" y="84.75" width="15.10" height="8.25" fill="#030303" stroke="#000" stroke-width="1.1" />
<path d="M430.50,27.50 L430.50,21.20 L458.00,21.20 L458.00,27.50" fill="none" stroke="#8a8a8a" stroke-width="1.0"/>
<text x="442.15" y="15.60" font-size="8.8" font-weight="normal" text-anchor="middle" fill="#111" stroke="#111" stroke-width="0.25" textLength="9.90" lengthAdjust="spacingAndGlyphs">NS</text>
<path d="M478.70,48.70 L478.70,43.70 L507.50,43.70 L507.50,48.70" fill="none" stroke="#8a8a8a" stroke-width="1.0"/>
<text x="491.00" y="37.50" font-size="8.8" font-weight="normal" text-anchor="middle" fill="#111" stroke="#111" stroke-width="0.25" textLength="9.90" lengthAdjust="spacingAndGlyphs">NS</text>
<line x1="300.50" y1="113.70" x2="300.50" y2="183.10" stroke="#000" stroke-width="1.1" />
<line x1="300.00" y1="182.50" x2="404.00" y2="182.50" stroke="#000" stroke-width="1.3" />
<line x1="298.70" y1="113.70" x2="300.50" y2="113.70" stroke="#000" stroke-width="0.8" />
<text x="297.90" y="115.00" font-size="3.8" font-weight="normal" text-anchor="end" fill="#8c8c8c" >150</text>
<line x1="298.70" y1="137.00" x2="300.50" y2="137.00" stroke="#000" stroke-width="0.8" />
<text x="297.90" y="138.30" font-size="3.8" font-weight="normal" text-anchor="end" fill="#8c8c8c" >100</text>
<line x1="298.70" y1="160.00" x2="300.50" y2="160.00" stroke="#000" stroke-width="0.8" />
<text x="297.90" y="161.30" font-size="3.8" font-weight="normal" text-anchor="end" fill="#8c8c8c" >50</text>
<line x1="298.70" y1="182.50" x2="300.50" y2="182.50" stroke="#000" stroke-width="0.8" />
<text x="297.90" y="183.80" font-size="3.8" font-weight="normal" text-anchor="end" fill="#8c8c8c" >0</text>
<line x1="316.60" y1="127.00" x2="316.60" y2="135.70" stroke="#000" stroke-width="1.3" />
<line x1="312.40" y1="127.60" x2="320.80" y2="127.60" stroke="#000" stroke-width="1.3" />
<rect x="309.25" y="136.25" width="14.70" height="46.25" fill="#d2d2d2" stroke="#000" stroke-width="1.1" />
<line x1="340.60" y1="144.20" x2="340.60" y2="148.20" stroke="#000" stroke-width="1.3" />
<line x1="336.40" y1="144.80" x2="344.80" y2="144.80" stroke="#000" stroke-width="1.3" />
<rect x="333.05" y="148.75" width="15.10" height="33.75" fill="#878787" stroke="#000" stroke-width="1.1" />
<line x1="364.35" y1="155.70" x2="364.35" y2="161.20" stroke="#000" stroke-width="1.3" />
<line x1="360.15" y1="156.30" x2="368.55" y2="156.30" stroke="#000" stroke-width="1.3" />
<rect x="356.75" y="161.75" width="15.20" height="20.75" fill="#242424" stroke="#000" stroke-width="1.1" />
<line x1="387.50" y1="155.50" x2="387.50" y2="158.70" stroke="#000" stroke-width="1.3" />
<line x1="383.30" y1="156.10" x2="391.70" y2="156.10" stroke="#000" stroke-width="1.3" />
<rect x="380.05" y="159.25" width="14.90" height="23.25" fill="#030303" stroke="#000" stroke-width="1.1" />
<path d="M314.50,122.00 L314.50,116.20 L342.50,116.20 L342.50,122.00" fill="none" stroke="#8a8a8a" stroke-width="1.0"/>
<text x="326.40" y="110.50" font-size="8.8" font-weight="normal" text-anchor="middle" fill="#111" stroke="#111" stroke-width="0.25" textLength="9.90" lengthAdjust="spacingAndGlyphs">NS</text>
<path d="M363.70,143.00 L363.70,137.50 L391.20,137.50 L391.20,143.00" fill="none" stroke="#8a8a8a" stroke-width="1.0"/>
<text x="375.35" y="131.20" font-size="8.8" font-weight="normal" text-anchor="middle" fill="#111" stroke="#111" stroke-width="0.25" textLength="9.90" lengthAdjust="spacingAndGlyphs">NS</text>
<line x1="416.20" y1="113.70" x2="416.20" y2="183.10" stroke="#000" stroke-width="1.1" />
<line x1="415.70" y1="182.50" x2="516.00" y2="182.50" stroke="#000" stroke-width="1.3" />
<line x1="414.40" y1="113.70" x2="416.20" y2="113.70" stroke="#000" stroke-width="0.8" />
<text x="413.60" y="115.00" font-size="3.8" font-weight="normal" text-anchor="end" fill="#8c8c8c" >25</text>
<line x1="414.40" y1="128.00" x2="416.20" y2="128.00" stroke="#000" stroke-width="0.8" />
<text x="413.60" y="129.30" font-size="3.8" font-weight="normal" text-anchor="end" fill="#8c8c8c" >20</text>
<line x1="414.40" y1="141.70" x2="416.20" y2="141.70" stroke="#000" stroke-width="0.8" />
<text x="413.60" y="143.00" font-size="3.8" font-weight="normal" text-anchor="end" fill="#8c8c8c" >15</text>
<line x1="414.40" y1="155.50" x2="416.20" y2="155.50" stroke="#000" stroke-width="0.8" />
<text x="413.60" y="156.80" font-size="3.8" font-weight="normal" text-anchor="end" fill="#8c8c8c" >10</text>
<line x1="414.40" y1="169.20" x2="416.20" y2="169.20" stroke="#000" stroke-width="0.8" />
<text x="413.60" y="170.50" font-size="3.8" font-weight="normal" text-anchor="end" fill="#8c8c8c" >5</text>
<line x1="414.40" y1="182.50" x2="416.20" y2="182.50" stroke="#000" stroke-width="0.8" />
<text x="413.60" y="183.80" font-size="3.8" font-weight="normal" text-anchor="end" fill="#8c8c8c" >0</text>
<line x1="432.50" y1="120.50" x2="432.50" y2="124.50" stroke="#000" stroke-width="1.3" />
<line x1="428.30" y1="121.10" x2="436.70" y2="121.10" stroke="#000" stroke-width="1.3" />
<rect x="425.55" y="125.05" width="13.90" height="57.45" fill="#d2d2d2" stroke="#000" stroke-width="1.1" />
<line x1="455.85" y1="160.30" x2="455.85" y2="161.20" stroke="#000" stroke-width="1.3" />
<line x1="451.65" y1="160.90" x2="460.05" y2="160.90" stroke="#000" stroke-width="1.3" />
<rect x="448.55" y="161.75" width="14.60" height="20.75" fill="#878787" stroke="#000" stroke-width="1.1" />
<line x1="479.35" y1="154.50" x2="479.35" y2="156.70" stroke="#000" stroke-width="1.3" />
<line x1="475.15" y1="155.10" x2="483.55" y2="155.10" stroke="#000" stroke-width="1.3" />
<rect x="471.75" y="157.25" width="15.20" height="25.25" fill="#242424" stroke="#000" stroke-width="1.1" />
<line x1="502.85" y1="176.20" x2="502.85" y2="177.00" stroke="#000" stroke-width="1.3" />
<line x1="498.65" y1="176.80" x2="507.05" y2="176.80" stroke="#000" stroke-width="1.3" />
<rect x="495.05" y="177.55" width="15.60" height="4.95" fill="#030303" stroke="#000" stroke-width="1.1" />
<path d="M454.50,150.70 L454.50,147.60 M454.50,150.70 L457.45,149.74 M454.50,150.70 L456.32,153.21 M454.50,150.70 L452.68,153.21 M454.50,150.70 L451.55,149.74 " stroke="#000" stroke-width="1.7" stroke-linecap="round" fill="none"/>
<path d="M502.00,165.50 L502.00,162.40 M502.00,165.50 L504.95,164.54 M502.00,165.50 L503.82,168.01 M502.00,165.50 L500.18,168.01 M502.00,165.50 L499.05,164.54 " stroke="#000" stroke-width="1.7" stroke-linecap="round" fill="none"/>
<line x1="300.50" y1="191.70" x2="300.50" y2="261.10" stroke="#000" stroke-width="1.1" />
<line x1="300.00" y1="260.50" x2="404.00" y2="260.50" stroke="#000" stroke-width="1.3" />
<line x1="298.70" y1="191.70" x2="300.50" y2="191.70" stroke="#000" stroke-width="0.8" />
<text x="297.90" y="193.00" font-size="3.8" font-weight="normal" text-anchor="end" fill="#8c8c8c" >20</text>
<line x1="298.70" y1="209.20" x2="300.50" y2="209.20" stroke="#000" stroke-width="0.8" />
<text x="297.90" y="210.50" font-size="3.8" font-weight="normal" text-anchor="end" fill="#8c8c8c" >15</text>
<line x1="298.70" y1="226.20" x2="300.50" y2="226.20" stroke="#000" stroke-width="0.8" />
<text x="297.90" y="227.50" font-size="3.8" font-weight="normal" text-anchor="end" fill="#8c8c8c" >10</text>
<line x1="298.70" y1="243.20" x2="300.50" y2="243.20" stroke="#000" stroke-width="0.8" />
<text x="297.90" y="244.50" font-size="3.8" font-weight="normal" text-anchor="end" fill="#8c8c8c" >5</text>
<line x1="298.70" y1="260.50" x2="300.50" y2="260.50" stroke="#000" stroke-width="0.8" />
<text x="297.90" y="261.80" font-size="3.8" font-weight="normal" text-anchor="end" fill="#8c8c8c" >0</text>
<line x1="316.60" y1="210.50" x2="316.60" y2="220.50" stroke="#000" stroke-width="1.3" />
<line x1="312.40" y1="211.10" x2="320.80" y2="211.10" stroke="#000" stroke-width="1.3" />
<rect x="309.25" y="221.05" width="14.70" height="39.45" fill="#d2d2d2" stroke="#000" stroke-width="1.1" />
<line x1="340.60" y1="244.50" x2="340.60" y2="247.50" stroke="#000" stroke-width="1.3" />
<line x1="336.40" y1="245.10" x2="344.80" y2="245.10" stroke="#000" stroke-width="1.3" />
<rect x="333.05" y="248.05" width="15.10" height="12.45" fill="#878787" stroke="#000" stroke-width="1.1" />
<line x1="364.35" y1="245.70" x2="364.35" y2="250.70" stroke="#000" stroke-width="1.3" />
<line x1="360.15" y1="246.30" x2="368.55" y2="246.30" stroke="#000" stroke-width="1.3" />
<rect x="356.75" y="251.25" width="15.20" height="9.25" fill="#242424" stroke="#000" stroke-width="1.1" />
<line x1="387.60" y1="253.20" x2="387.60" y2="255.00" stroke="#000" stroke-width="1.3" />
<line x1="383.40" y1="253.80" x2="391.80" y2="253.80" stroke="#000" stroke-width="1.3" />
<rect x="380.05" y="255.55" width="15.10" height="4.95" fill="#030303" stroke="#000" stroke-width="1.1" />
<path d="M338.70,233.20 L338.70,230.10 M338.70,233.20 L341.65,232.24 M338.70,233.20 L340.52,235.71 M338.70,233.20 L336.88,235.71 M338.70,233.20 L335.75,232.24 " stroke="#000" stroke-width="1.7" stroke-linecap="round" fill="none"/>
<path d="M361.20,237.00 L361.20,231.20 L388.70,231.20 L388.70,237.00" fill="none" stroke="#8a8a8a" stroke-width="1.0"/>
<text x="372.85" y="225.50" font-size="8.8" font-weight="normal" text-anchor="middle" fill="#111" stroke="#111" stroke-width="0.25" textLength="9.90" lengthAdjust="spacingAndGlyphs">NS</text>
<line x1="415.70" y1="192.00" x2="415.70" y2="261.10" stroke="#000" stroke-width="1.1" />
<line x1="415.20" y1="260.50" x2="516.00" y2="260.50" stroke="#000" stroke-width="1.3" />
<line x1="413.90" y1="192.00" x2="415.70" y2="192.00" stroke="#000" stroke-width="0.8" />
<text x="413.10" y="193.30" font-size="3.8" font-weight="normal" text-anchor="end" fill="#8c8c8c" >7.5</text>
<line x1="413.90" y1="215.00" x2="415.70" y2="215.00" stroke="#000" stroke-width="0.8" />
<text x="413.10" y="216.30" font-size="3.8" font-weight="normal" text-anchor="end" fill="#8c8c8c" >5.0</text>
<line x1="413.90" y1="238.00" x2="415.70" y2="238.00" stroke="#000" stroke-width="0.8" />
<text x="413.10" y="239.30" font-size="3.8" font-weight="normal" text-anchor="end" fill="#8c8c8c" >2.5</text>
<line x1="413.90" y1="260.50" x2="415.70" y2="260.50" stroke="#000" stroke-width="0.8" />
<text x="413.10" y="261.80" font-size="3.8" font-weight="normal" text-anchor="end" fill="#8c8c8c" >0.0</text>
<line x1="431.60" y1="209.50" x2="431.60" y2="217.50" stroke="#000" stroke-width="1.3" />
<line x1="427.40" y1="210.10" x2="435.80" y2="210.10" stroke="#000" stroke-width="1.3" />
<rect x="424.25" y="218.05" width="14.70" height="42.45" fill="#d2d2d2" stroke="#000" stroke-width="1.1" />
<line x1="455.35" y1="245.50" x2="455.35" y2="247.50" stroke="#000" stroke-width="1.3" />
<line x1="451.15" y1="246.10" x2="459.55" y2="246.10" stroke="#000" stroke-width="1.3" />
<rect x="448.05" y="248.05" width="14.60" height="12.45" fill="#878787" stroke="#000" stroke-width="1.1" />
<line x1="479.10" y1="224.50" x2="479.10" y2="230.50" stroke="#000" stroke-width="1.3" />
<line x1="474.90" y1="225.10" x2="483.30" y2="225.10" stroke="#000" stroke-width="1.3" />
<rect x="471.75" y="231.05" width="14.70" height="29.45" fill="#242424" stroke="#000" stroke-width="1.1" />
<line x1="502.60" y1="254.50" x2="502.60" y2="255.50" stroke="#000" stroke-width="1.3" />
<line x1="498.40" y1="255.10" x2="506.80" y2="255.10" stroke="#000" stroke-width="1.3" />
<rect x="495.05" y="256.05" width="15.10" height="4.45" fill="#030303" stroke="#000" stroke-width="1.1" />
<path d="M454.50,233.20 L454.50,230.10 M454.50,233.20 L457.45,232.24 M454.50,233.20 L456.32,235.71 M454.50,233.20 L452.68,235.71 M454.50,233.20 L451.55,232.24 " stroke="#000" stroke-width="1.7" stroke-linecap="round" fill="none"/>
<path d="M500.70,245.50 L500.70,242.40 M500.70,245.50 L503.65,244.54 M500.70,245.50 L502.52,248.01 M500.70,245.50 L498.88,248.01 M500.70,245.50 L497.75,244.54 " stroke="#000" stroke-width="1.7" stroke-linecap="round" fill="none"/>
<line x1="300.40" y1="272.90" x2="300.40" y2="341.90" stroke="#000" stroke-width="1.1" />
<line x1="299.90" y1="341.30" x2="404.00" y2="341.30" stroke="#000" stroke-width="1.3" />
<line x1="298.60" y1="272.90" x2="300.40" y2="272.90" stroke="#000" stroke-width="0.8" />
<text x="297.80" y="274.20" font-size="3.8" font-weight="normal" text-anchor="end" fill="#8c8c8c" >75</text>
<line x1="298.60" y1="295.80" x2="300.40" y2="295.80" stroke="#000" stroke-width="0.8" />
<text x="297.80" y="297.10" font-size="3.8" font-weight="normal" text-anchor="end" fill="#8c8c8c" >50</text>
<line x1="298.60" y1="318.70" x2="300.40" y2="318.70" stroke="#000" stroke-width="0.8" />
<text x="297.80" y="320.00" font-size="3.8" font-weight="normal" text-anchor="end" fill="#8c8c8c" >25</text>
<line x1="298.60" y1="341.30" x2="300.40" y2="341.30" stroke="#000" stroke-width="0.8" />
<text x="297.80" y="342.60" font-size="3.8" font-weight="normal" text-anchor="end" fill="#8c8c8c" >0</text>
<line x1="364.30" y1="305.80" x2="364.30" y2="307.10" stroke="#000" stroke-width="1.3" />
<line x1="360.10" y1="306.40" x2="368.50" y2="306.40" stroke="#000" stroke-width="1.3" />
<rect x="356.65" y="307.65" width="15.30" height="33.65" fill="#242424" stroke="#000" stroke-width="1.1" />
<line x1="387.65" y1="285.60" x2="387.65" y2="289.00" stroke="#000" stroke-width="1.3" />
<line x1="383.45" y1="286.20" x2="391.85" y2="286.20" stroke="#000" stroke-width="1.3" />
<rect x="379.85" y="289.55" width="15.60" height="51.75" fill="#030303" stroke="#000" stroke-width="1.1" />
<path d="M386.50,276.70 L386.50,273.60 M386.50,276.70 L389.45,275.74 M386.50,276.70 L388.32,279.21 M386.50,276.70 L384.68,279.21 M386.50,276.70 L383.55,275.74 " stroke="#000" stroke-width="1.7" stroke-linecap="round" fill="none"/>
<line x1="415.70" y1="272.50" x2="415.70" y2="341.80" stroke="#000" stroke-width="1.1" />
<line x1="415.20" y1="341.20" x2="516.00" y2="341.20" stroke="#000" stroke-width="1.3" />
<line x1="413.90" y1="272.50" x2="415.70" y2="272.50" stroke="#000" stroke-width="0.8" />
<text x="413.10" y="273.80" font-size="3.8" font-weight="normal" text-anchor="end" fill="#8c8c8c" >30</text>
<line x1="413.90" y1="295.50" x2="415.70" y2="295.50" stroke="#000" stroke-width="0.8" />
<text x="413.10" y="296.80" font-size="3.8" font-weight="normal" text-anchor="end" fill="#8c8c8c" >20</text>
<line x1="413.90" y1="318.20" x2="415.70" y2="318.20" stroke="#000" stroke-width="0.8" />
<text x="413.10" y="319.50" font-size="3.8" font-weight="normal" text-anchor="end" fill="#8c8c8c" >10</text>
<line x1="413.90" y1="341.20" x2="415.70" y2="341.20" stroke="#000" stroke-width="0.8" />
<text x="413.10" y="342.50" font-size="3.8" font-weight="normal" text-anchor="end" fill="#8c8c8c" >0</text>
<line x1="431.85" y1="289.20" x2="431.85" y2="295.50" stroke="#000" stroke-width="1.3" />
<line x1="427.65" y1="289.80" x2="436.05" y2="289.80" stroke="#000" stroke-width="1.3" />
<rect x="424.25" y="296.05" width="15.20" height="45.15" fill="#d2d2d2" stroke="#000" stroke-width="1.1" />
<line x1="455.60" y1="326.20" x2="455.60" y2="328.70" stroke="#000" stroke-width="1.3" />
<line x1="451.40" y1="326.80" x2="459.80" y2="326.80" stroke="#000" stroke-width="1.3" />
<rect x="448.05" y="329.25" width="15.10" height="11.95" fill="#878787" stroke="#000" stroke-width="1.1" />
<line x1="479.35" y1="309.20" x2="479.35" y2="315.50" stroke="#000" stroke-width="1.3" />
<line x1="475.15" y1="309.80" x2="483.55" y2="309.80" stroke="#000" stroke-width="1.3" />
<rect x="471.75" y="316.05" width="15.20" height="25.15" fill="#242424" stroke="#000" stroke-width="1.1" />
<line x1="502.85" y1="333.70" x2="502.85" y2="335.00" stroke="#000" stroke-width="1.3" />
<line x1="498.65" y1="334.30" x2="507.05" y2="334.30" stroke="#000" stroke-width="1.3" />
<rect x="495.05" y="335.55" width="15.60" height="5.65" fill="#030303" stroke="#000" stroke-width="1.1" />
<path d="M454.50,315.00 L454.50,311.90 M454.50,315.00 L457.45,314.04 M454.50,315.00 L456.32,317.51 M454.50,315.00 L452.68,317.51 M454.50,315.00 L451.55,314.04 " stroke="#000" stroke-width="1.7" stroke-linecap="round" fill="none"/>
<path d="M500.70,321.20 L500.70,318.10 M500.70,321.20 L503.65,320.24 M500.70,321.20 L502.52,323.71 M500.70,321.20 L498.88,323.71 M500.70,321.20 L497.75,320.24 " stroke="#000" stroke-width="1.7" stroke-linecap="round" fill="none"/>
<text x="268.00" y="357.60" font-size="10.8" font-weight="normal" text-anchor="start" fill="#111"  textLength="36.40" lengthAdjust="spacingAndGlyphs">CD4Cre</text>
<text x="315.90" y="356.40" font-size="10.2" font-weight="normal" text-anchor="middle" fill="#111" >(-)</text>
<text x="340.35" y="356.40" font-size="10.2" font-weight="normal" text-anchor="middle" fill="#111" >(+)</text>
<text x="364.00" y="356.40" font-size="10.2" font-weight="normal" text-anchor="middle" fill="#111" >(-)</text>
<text x="387.30" y="356.40" font-size="10.2" font-weight="normal" text-anchor="middle" fill="#111" >(+)</text>
<text x="431.20" y="356.40" font-size="10.2" font-weight="normal" text-anchor="middle" fill="#111" >(-)</text>
<text x="454.95" y="356.40" font-size="10.2" font-weight="normal" text-anchor="middle" fill="#111" >(+)</text>
<text x="478.70" y="356.40" font-size="10.2" font-weight="normal" text-anchor="middle" fill="#111" >(-)</text>
<text x="502.20" y="356.40" font-size="10.2" font-weight="normal" text-anchor="middle" fill="#111" >(+)</text>
<line x1="308.50" y1="359.30" x2="348.90" y2="359.30" stroke="#222" stroke-width="1.0" />
<text x="328.70" y="371.20" font-size="9.7" text-anchor="middle" fill="#111">Total</text>
<text x="328.70" y="382.80" font-size="9.7" text-anchor="middle" fill="#111">cells</text>
<line x1="355.60" y1="359.30" x2="397.90" y2="359.30" stroke="#222" stroke-width="1.0" />
<text x="376.75" y="371.20" font-size="9.7" text-anchor="middle" fill="#111">B220<tspan font-size="6" dy="-3.6">+</tspan></text>
<line x1="422.50" y1="359.30" x2="465.00" y2="359.30" stroke="#222" stroke-width="1.0" />
<text x="443.75" y="371.20" font-size="9.7" text-anchor="middle" fill="#111">CD4<tspan font-size="6" dy="-3.6">+</tspan></text>
<line x1="470.50" y1="359.30" x2="512.50" y2="359.30" stroke="#222" stroke-width="1.0" />
<text x="491.50" y="371.20" font-size="9.7" text-anchor="middle" fill="#111">CD8<tspan font-size="6" dy="-3.6">+</tspan></text>
<text x="1.90" y="405.00" font-size="12.5" font-weight="bold" text-anchor="start" fill="#000" stroke="#000" stroke-width="0.5">B</text>
<text x="37.5" y="412.5" font-size="12.4">Crry<tspan font-size="7.5" dy="-4.4">flox/flox</tspan></text>
<text x="114.2" y="405.4" font-size="12.4">Crry<tspan font-size="7.5" dy="-4.4">flox/flox</tspan></text>
<text x="116.20" y="421.50" font-size="12.4" font-weight="normal" text-anchor="start" fill="#000" >LCKCre</text>
<line x1="5.80" y1="439.20" x2="5.80" y2="708.00" stroke="#000" stroke-width="2.6" />
<path d="M1.40,439.70 L5.80,432.90 L10.20,439.70 Z" fill="#000"/>
<text transform="translate(10.6,736.5) rotate(-90)" font-size="11.2">CD8</text>
<text x="31.40" y="762.00" font-size="10.8" font-weight="normal" text-anchor="start" fill="#000" >CD4</text>
<line x1="54.80" y1="758.30" x2="173.10" y2="758.30" stroke="#000" stroke-width="2.4" />
<path d="M172.60,754.00 L178.40,758.30 L172.60,762.60 Z" fill="#000"/>
<g clip-path="url(#cl8)">
<rect x="25.30" y="445.5" width="21.5" height="12.5" fill="#000" fill-opacity="0.62" filter="url(#spM)"/>
<rect x="25.30" y="448.5" width="21.5" height="4.5" fill="#000" fill-opacity="0.3" filter="url(#cb)"/>
<rect x="25.30" y="457" width="21.5" height="7" fill="#000" fill-opacity="0.16" filter="url(#sp1)"/>
<rect x="26.00" y="467" width="20" height="29" fill="#000" fill-opacity="0.1" filter="url(#sp1)"/>
<path d="M47.00,466 L58.50,466 L62.50,497 L52.00,497 Z" fill="#000" fill-opacity="0.16" filter="url(#sp)"/>
<path d="M46.50,446 C49.00,444.6 52.00,444.3 54.00,444.3 L63.50,444.3 C65.50,444.5 66.50,446.5 66.60,449 L66.80,464 L68.20,497.5 L63.00,497.5 C62.00,488 60.50,475 58.50,467 C55.00,463 50.00,460 46.50,458 Z" fill="none" stroke="#000" stroke-opacity="0.38" stroke-width="2.8" filter="url(#sp1)"/>
<path d="M46.50,446 C49.00,444.6 52.00,444.3 54.00,444.3 L63.50,444.3 C65.50,444.5 66.50,446.5 66.60,449 L66.80,464 L68.20,497.5 L63.00,497.5 C62.00,488 60.50,475 58.50,467 C55.00,463 50.00,460 46.50,458 Z" fill="#8c8c8c" stroke="#161616" stroke-width="1.6" filter="url(#cb)"/>
<ellipse cx="59.10" cy="453.00" rx="7.5" ry="7" fill="#b4b4b4" filter="url(#sb1)"/>
<path d="M61.60,468.5 L65.60,468.5 L66.40,497 L64.60,497 Z" fill="#c6c6c6" filter="url(#cb)"/>
<ellipse cx="59.60" cy="451.50" rx="4" ry="3.6" fill="#dadada" stroke="#555" stroke-width="1" filter="url(#cb)"/>
<ellipse cx="59.90" cy="451.70" rx="1.4" ry="1.15" fill="#1a1a1a"/>
</g>
<g clip-path="url(#cl9)">
<rect x="108.30" y="445.5" width="21.5" height="12.5" fill="#000" fill-opacity="0.62" filter="url(#spM)"/>
<rect x="108.30" y="448.5" width="21.5" height="4.5" fill="#000" fill-opacity="0.3" filter="url(#cb)"/>
<rect x="108.30" y="457" width="21.5" height="7" fill="#000" fill-opacity="0.16" filter="url(#sp1)"/>
<rect x="109.00" y="467" width="20" height="29" fill="#000" fill-opacity="0.16" filter="url(#sp1)"/>
<path d="M130.00,466 L142.50,466 L146.50,497 L135.00,497 Z" fill="#000" fill-opacity="0.24" filter="url(#sp)"/>
<path d="M129.50,446 C132.00,444.6 135.00,444.3 137.00,444.3 L147.50,444.3 C149.50,444.5 150.50,446.5 150.60,449 L150.80,464 L152.20,497.5 L147.00,497.5 C146.00,488 144.50,475 142.50,467 C138.00,463 133.00,460 129.50,458 Z" fill="none" stroke="#000" stroke-opacity="0.38" stroke-width="2.8" filter="url(#sp1)"/>
<path d="M129.50,446 C132.00,444.6 135.00,444.3 137.00,444.3 L147.50,444.3 C149.50,444.5 150.50,446.5 150.60,449 L150.80,464 L152.20,497.5 L147.00,497.5 C146.00,488 144.50,475 142.50,467 C138.00,463 133.00,460 129.50,458 Z" fill="#8c8c8c" stroke="#161616" stroke-width="1.6" filter="url(#cb)"/>
<ellipse cx="143.10" cy="453.00" rx="7.5" ry="7" fill="#b4b4b4" filter="url(#sb1)"/>
<path d="M145.60,468.5 L149.60,468.5 L150.40,497 L148.60,497 Z" fill="#c6c6c6" filter="url(#cb)"/>
<ellipse cx="143.60" cy="451.50" rx="4" ry="3.6" fill="#dadada" stroke="#555" stroke-width="1" filter="url(#cb)"/>
<ellipse cx="143.90" cy="451.70" rx="1.4" ry="1.15" fill="#1a1a1a"/>
</g>
<g clip-path="url(#cl10)">
<ellipse cx="34.00" cy="546.00" rx="11.00" ry="6.00" fill="#000" fill-opacity="0.16" transform="rotate(0 34.00 546.00)" filter="url(#sp)"/>
<ellipse cx="54.00" cy="563.00" rx="8.00" ry="13.00" fill="#000" fill-opacity="0.2" transform="rotate(0 54.00 563.00)" filter="url(#sp)"/>
<ellipse cx="70.00" cy="530.00" rx="14.00" ry="10.00" fill="#000" fill-opacity="0.04" transform="rotate(0 70.00 530.00)" filter="url(#sp)"/>
<path d="M25,526.5 C34,525 43.5,528 44,532.5 C44,537.5 34,540 25,539.5 Z" fill="none" stroke="#000" stroke-opacity="0.42" stroke-width="4.68" filter="url(#sp1)"/>
<path d="M25,526.5 C34,525 43.5,528 44,532.5 C44,537.5 34,540 25,539.5 Z" fill="#5a5a5a" stroke="#111" stroke-width="2.07" filter="url(#cb2)"/>
<path d="M25,557.5 C33,556 41.5,559 42.8,567 L43.2,579 L25,579 Z" fill="none" stroke="#000" stroke-opacity="0.42" stroke-width="5.20" filter="url(#sp1)"/>
<path d="M25,557.5 C33,556 41.5,559 42.8,567 L43.2,579 L25,579 Z" fill="#acacac" stroke="#111" stroke-width="2.30" filter="url(#cb2)"/>
<path d="M61,579 L61,563 C61,553.5 71,553.5 71,563 L71,579 Z" fill="none" stroke="#000" stroke-opacity="0.42" stroke-width="4.68" filter="url(#sp1)"/>
<path d="M61,579 L61,563 C61,553.5 71,553.5 71,563 L71,579 Z" fill="#b0b0b0" stroke="#111" stroke-width="2.07" filter="url(#cb2)"/>
</g>
<g clip-path="url(#cl11)">
<ellipse cx="117.00" cy="536.00" rx="8.00" ry="9.00" fill="#000" fill-opacity="0.14" transform="rotate(0 117.00 536.00)" filter="url(#sp)"/>
<ellipse cx="118.00" cy="551.00" rx="10.00" ry="6.00" fill="#000" fill-opacity="0.2" transform="rotate(0 118.00 551.00)" filter="url(#sp)"/>
<ellipse cx="138.00" cy="563.00" rx="8.00" ry="12.00" fill="#000" fill-opacity="0.12" transform="rotate(0 138.00 563.00)" filter="url(#sp)"/>
<path d="M109.4,559.5 C119,558 125.5,559.5 127,565 L127.4,579 L109.4,579 Z" fill="none" stroke="#000" stroke-opacity="0.42" stroke-width="5.72" filter="url(#sp1)"/>
<path d="M109.4,559.5 C119,558 125.5,559.5 127,565 L127.4,579 L109.4,579 Z" fill="#8a8a8a" stroke="#111" stroke-width="2.53" filter="url(#cb2)"/>
<path d="M145,579 L145,562 C145,555 154,555 154,562 L154,579 Z" fill="none" stroke="#000" stroke-opacity="0.42" stroke-width="4.68" filter="url(#sp1)"/>
<path d="M145,579 L145,562 C145,555 154,555 154,562 L154,579 Z" fill="#333" stroke="#111" stroke-width="2.07" filter="url(#cb2)"/>
</g>
<g clip-path="url(#cl12)">
<ellipse cx="34.00" cy="628.00" rx="10.00" ry="5.00" fill="#000" fill-opacity="0.2" transform="rotate(0 34.00 628.00)" filter="url(#sp)"/>
<ellipse cx="52.00" cy="643.00" rx="6.00" ry="12.00" fill="#000" fill-opacity="0.12" transform="rotate(0 52.00 643.00)" filter="url(#sp)"/>
<ellipse cx="60.00" cy="606.00" rx="8.00" ry="6.00" fill="#000" fill-opacity="0.08" transform="rotate(0 60.00 606.00)" filter="url(#sp)"/>
<path d="M25,605.5 C35,604 44,607 44.5,612.5 C44,618 35,620.5 25,620 Z" fill="none" stroke="#000" stroke-opacity="0.42" stroke-width="5.20" filter="url(#sp1)"/>
<path d="M25,605.5 C35,604 44,607 44.5,612.5 C44,618 35,620.5 25,620 Z" fill="#9a9a9a" stroke="#111" stroke-width="2.30" filter="url(#cb2)"/>
<path d="M25,636.5 C33,635 42,639 43,647 L43.5,659 L25,659 Z" fill="none" stroke="#000" stroke-opacity="0.42" stroke-width="5.72" filter="url(#sp1)"/>
<path d="M25,636.5 C33,635 42,639 43,647 L43.5,659 L25,659 Z" fill="#9a9a9a" stroke="#111" stroke-width="2.53" filter="url(#cb2)"/>
<path d="M59.5,659 L59.5,640 C59.5,627.5 71.5,627.5 71.5,640 L71.5,659 Z" fill="none" stroke="#000" stroke-opacity="0.42" stroke-width="5.20" filter="url(#sp1)"/>
<path d="M59.5,659 L59.5,640 C59.5,627.5 71.5,627.5 71.5,640 L71.5,659 Z" fill="#b5b5b5" stroke="#111" stroke-width="2.30" filter="url(#cb2)"/>
</g>
<g clip-path="url(#cl13)">
<path d="M109.4,605 C119,604 127.5,608 128,613.5 C127.5,619 119,622.5 109.4,622 Z" fill="#000" fill-opacity="0.62" filter="url(#spM)"/>
<ellipse cx="118.00" cy="630.00" rx="9.00" ry="5.00" fill="#000" fill-opacity="0.22" transform="rotate(0 118.00 630.00)" filter="url(#sp)"/>
<ellipse cx="138.00" cy="643.00" rx="7.00" ry="12.00" fill="#000" fill-opacity="0.12" transform="rotate(0 138.00 643.00)" filter="url(#sp)"/>
<path d="M109.4,641 C119,639.5 126,640.5 127.5,646.5 L128,659 L109.4,659 Z" fill="none" stroke="#000" stroke-opacity="0.42" stroke-width="6.24" filter="url(#sp1)"/>
<path d="M109.4,641 C119,639.5 126,640.5 127.5,646.5 L128,659 L109.4,659 Z" fill="#9a9a9a" stroke="#111" stroke-width="2.76" filter="url(#cb2)"/>
<path d="M143.5,659 L143.5,646 C143.5,637.5 154.5,637.5 154.5,646 L154.5,659 Z" fill="none" stroke="#000" stroke-opacity="0.42" stroke-width="5.20" filter="url(#sp1)"/>
<path d="M143.5,659 L143.5,646 C143.5,637.5 154.5,637.5 154.5,646 L154.5,659 Z" fill="#8a8a8a" stroke="#111" stroke-width="2.30" filter="url(#cb2)"/>
</g>
<g clip-path="url(#cl14)">
<ellipse cx="34.00" cy="711.00" rx="9.00" ry="6.00" fill="#000" fill-opacity="0.2" transform="rotate(0 34.00 711.00)" filter="url(#sp)"/>
<ellipse cx="53.00" cy="729.00" rx="7.00" ry="9.00" fill="#000" fill-opacity="0.3" transform="rotate(0 53.00 729.00)" filter="url(#sp)"/>
<path d="M25,686 C34,684.5 43,688 43.5,693 C43,698 34,701 25,700.5 Z" fill="none" stroke="#000" stroke-opacity="0.42" stroke-width="4.68" filter="url(#sp1)"/>
<path d="M25,686 C34,684.5 43,688 43.5,693 C43,698 34,701 25,700.5 Z" fill="#6a6a6a" stroke="#111" stroke-width="2.07" filter="url(#cb2)"/>
<path d="M25,720 C33,718.5 42,721.5 43,728.5 L43.5,740 L25,740 Z" fill="none" stroke="#000" stroke-opacity="0.42" stroke-width="5.72" filter="url(#sp1)"/>
<path d="M25,720 C33,718.5 42,721.5 43,728.5 L43.5,740 L25,740 Z" fill="#a8a8a8" stroke="#111" stroke-width="2.53" filter="url(#cb2)"/>
<path d="M59.5,740 L59.5,726 C59.5,715 70.5,715 70.5,726 L70.5,740 Z" fill="none" stroke="#000" stroke-opacity="0.42" stroke-width="5.20" filter="url(#sp1)"/>
<path d="M59.5,740 L59.5,726 C59.5,715 70.5,715 70.5,726 L70.5,740 Z" fill="#b8b8b8" stroke="#111" stroke-width="2.30" filter="url(#cb2)"/>
</g>
<g clip-path="url(#cl15)">
<ellipse cx="116.00" cy="696.00" rx="7.00" ry="8.00" fill="#000" fill-opacity="0.08" transform="rotate(0 116.00 696.00)" filter="url(#sp)"/>
<path d="M109.4,721.5 C118,720 125,720.5 127,726.5 L127.5,740 L109.4,740 Z" fill="none" stroke="#000" stroke-opacity="0.42" stroke-width="5.72" filter="url(#sp1)"/>
<path d="M109.4,721.5 C118,720 125,720.5 127,726.5 L127.5,740 L109.4,740 Z" fill="#8f8f8f" stroke="#111" stroke-width="2.53" filter="url(#cb2)"/>
<ellipse cx="149.00" cy="729.00" rx="4.50" ry="6.50" fill="#000" fill-opacity="0.32" transform="rotate(0 149.00 729.00)" filter="url(#sp)"/>
</g>
<text x="22.80" y="498.70" font-size="4.2" fill="#8a8a8a" text-anchor="end">10<tspan font-size="2.8" dy="-1.5">0</tspan></text>
<line x1="23.40" y1="497.50" x2="25.00" y2="497.50" stroke="#333" stroke-width="0.8" />
<text x="22.80" y="481.65" font-size="4.2" fill="#8a8a8a" text-anchor="end">10<tspan font-size="2.8" dy="-1.5">1</tspan></text>
<line x1="23.40" y1="480.45" x2="25.00" y2="480.45" stroke="#333" stroke-width="0.8" />
<text x="22.80" y="464.60" font-size="4.2" fill="#8a8a8a" text-anchor="end">10<tspan font-size="2.8" dy="-1.5">2</tspan></text>
<line x1="23.40" y1="463.40" x2="25.00" y2="463.40" stroke="#333" stroke-width="0.8" />
<text x="22.80" y="447.55" font-size="4.2" fill="#8a8a8a" text-anchor="end">10<tspan font-size="2.8" dy="-1.5">3</tspan></text>
<line x1="23.40" y1="446.35" x2="25.00" y2="446.35" stroke="#333" stroke-width="0.8" />
<text x="22.80" y="430.50" font-size="4.2" fill="#8a8a8a" text-anchor="end">10<tspan font-size="2.8" dy="-1.5">4</tspan></text>
<line x1="23.40" y1="429.30" x2="25.00" y2="429.30" stroke="#333" stroke-width="0.8" />
<text x="25.00" y="502.70" font-size="4.2" fill="#8a8a8a" text-anchor="middle">10<tspan font-size="2.8" dy="-1.5">0</tspan></text>
<line x1="25.00" y1="497.50" x2="25.00" y2="499.10" stroke="#333" stroke-width="0.8" />
<text x="42.98" y="502.70" font-size="4.2" fill="#8a8a8a" text-anchor="middle">10<tspan font-size="2.8" dy="-1.5">1</tspan></text>
<line x1="42.98" y1="497.50" x2="42.98" y2="499.10" stroke="#333" stroke-width="0.8" />
<text x="60.95" y="502.70" font-size="4.2" fill="#8a8a8a" text-anchor="middle">10<tspan font-size="2.8" dy="-1.5">2</tspan></text>
<line x1="60.95" y1="497.50" x2="60.95" y2="499.10" stroke="#333" stroke-width="0.8" />
<text x="78.93" y="502.70" font-size="4.2" fill="#8a8a8a" text-anchor="middle">10<tspan font-size="2.8" dy="-1.5">3</tspan></text>
<line x1="78.93" y1="497.50" x2="78.93" y2="499.10" stroke="#333" stroke-width="0.8" />
<text x="96.90" y="502.70" font-size="4.2" fill="#8a8a8a" text-anchor="middle">10<tspan font-size="2.8" dy="-1.5">4</tspan></text>
<line x1="96.90" y1="497.50" x2="96.90" y2="499.10" stroke="#333" stroke-width="0.8" />
<line x1="24.20" y1="429.30" x2="24.20" y2="497.50" stroke="#222" stroke-width="0.9" stroke-dasharray="0.8 1.6"/>
<line x1="25.00" y1="498.40" x2="96.90" y2="498.40" stroke="#222" stroke-width="0.9" stroke-dasharray="0.8 1.6"/>
<rect x="25.00" y="429.30" width="71.90" height="68.20" fill="none" stroke="#111" stroke-width="1.25" />
<line x1="46.50" y1="429.30" x2="46.50" y2="497.50" stroke="#111" stroke-width="1.25" />
<line x1="25.00" y1="465.40" x2="96.90" y2="465.40" stroke="#111" stroke-width="1.25" />
<text x="107.20" y="498.70" font-size="4.2" fill="#8a8a8a" text-anchor="end">10<tspan font-size="2.8" dy="-1.5">0</tspan></text>
<line x1="107.80" y1="497.50" x2="109.40" y2="497.50" stroke="#333" stroke-width="0.8" />
<text x="107.20" y="481.65" font-size="4.2" fill="#8a8a8a" text-anchor="end">10<tspan font-size="2.8" dy="-1.5">1</tspan></text>
<line x1="107.80" y1="480.45" x2="109.40" y2="480.45" stroke="#333" stroke-width="0.8" />
<text x="107.20" y="464.60" font-size="4.2" fill="#8a8a8a" text-anchor="end">10<tspan font-size="2.8" dy="-1.5">2</tspan></text>
<line x1="107.80" y1="463.40" x2="109.40" y2="463.40" stroke="#333" stroke-width="0.8" />
<text x="107.20" y="447.55" font-size="4.2" fill="#8a8a8a" text-anchor="end">10<tspan font-size="2.8" dy="-1.5">3</tspan></text>
<line x1="107.80" y1="446.35" x2="109.40" y2="446.35" stroke="#333" stroke-width="0.8" />
<text x="107.20" y="430.50" font-size="4.2" fill="#8a8a8a" text-anchor="end">10<tspan font-size="2.8" dy="-1.5">4</tspan></text>
<line x1="107.80" y1="429.30" x2="109.40" y2="429.30" stroke="#333" stroke-width="0.8" />
<text x="109.40" y="502.70" font-size="4.2" fill="#8a8a8a" text-anchor="middle">10<tspan font-size="2.8" dy="-1.5">0</tspan></text>
<line x1="109.40" y1="497.50" x2="109.40" y2="499.10" stroke="#333" stroke-width="0.8" />
<text x="127.30" y="502.70" font-size="4.2" fill="#8a8a8a" text-anchor="middle">10<tspan font-size="2.8" dy="-1.5">1</tspan></text>
<line x1="127.30" y1="497.50" x2="127.30" y2="499.10" stroke="#333" stroke-width="0.8" />
<text x="145.20" y="502.70" font-size="4.2" fill="#8a8a8a" text-anchor="middle">10<tspan font-size="2.8" dy="-1.5">2</tspan></text>
<line x1="145.20" y1="497.50" x2="145.20" y2="499.10" stroke="#333" stroke-width="0.8" />
<text x="163.10" y="502.70" font-size="4.2" fill="#8a8a8a" text-anchor="middle">10<tspan font-size="2.8" dy="-1.5">3</tspan></text>
<line x1="163.10" y1="497.50" x2="163.10" y2="499.10" stroke="#333" stroke-width="0.8" />
<text x="181.00" y="502.70" font-size="4.2" fill="#8a8a8a" text-anchor="middle">10<tspan font-size="2.8" dy="-1.5">4</tspan></text>
<line x1="181.00" y1="497.50" x2="181.00" y2="499.10" stroke="#333" stroke-width="0.8" />
<line x1="108.60" y1="429.30" x2="108.60" y2="497.50" stroke="#222" stroke-width="0.9" stroke-dasharray="0.8 1.6"/>
<line x1="109.40" y1="498.40" x2="181.00" y2="498.40" stroke="#222" stroke-width="0.9" stroke-dasharray="0.8 1.6"/>
<rect x="109.40" y="429.30" width="71.60" height="68.20" fill="none" stroke="#111" stroke-width="1.25" />
<line x1="129.40" y1="429.30" x2="129.40" y2="497.50" stroke="#111" stroke-width="1.25" />
<line x1="109.40" y1="465.40" x2="181.00" y2="465.40" stroke="#111" stroke-width="1.25" />
<text x="22.80" y="578.30" font-size="4.2" fill="#8a8a8a" text-anchor="end">10<tspan font-size="2.8" dy="-1.5">0</tspan></text>
<line x1="23.40" y1="577.10" x2="25.00" y2="577.10" stroke="#333" stroke-width="0.8" />
<text x="22.80" y="561.08" font-size="4.2" fill="#8a8a8a" text-anchor="end">10<tspan font-size="2.8" dy="-1.5">1</tspan></text>
<line x1="23.40" y1="559.88" x2="25.00" y2="559.88" stroke="#333" stroke-width="0.8" />
<text x="22.80" y="543.85" font-size="4.2" fill="#8a8a8a" text-anchor="end">10<tspan font-size="2.8" dy="-1.5">2</tspan></text>
<line x1="23.40" y1="542.65" x2="25.00" y2="542.65" stroke="#333" stroke-width="0.8" />
<text x="22.80" y="526.62" font-size="4.2" fill="#8a8a8a" text-anchor="end">10<tspan font-size="2.8" dy="-1.5">3</tspan></text>
<line x1="23.40" y1="525.42" x2="25.00" y2="525.42" stroke="#333" stroke-width="0.8" />
<text x="22.80" y="509.40" font-size="4.2" fill="#8a8a8a" text-anchor="end">10<tspan font-size="2.8" dy="-1.5">4</tspan></text>
<line x1="23.40" y1="508.20" x2="25.00" y2="508.20" stroke="#333" stroke-width="0.8" />
<text x="25.00" y="582.30" font-size="4.2" fill="#8a8a8a" text-anchor="middle">10<tspan font-size="2.8" dy="-1.5">0</tspan></text>
<line x1="25.00" y1="577.10" x2="25.00" y2="578.70" stroke="#333" stroke-width="0.8" />
<text x="42.98" y="582.30" font-size="4.2" fill="#8a8a8a" text-anchor="middle">10<tspan font-size="2.8" dy="-1.5">1</tspan></text>
<line x1="42.98" y1="577.10" x2="42.98" y2="578.70" stroke="#333" stroke-width="0.8" />
<text x="60.95" y="582.30" font-size="4.2" fill="#8a8a8a" text-anchor="middle">10<tspan font-size="2.8" dy="-1.5">2</tspan></text>
<line x1="60.95" y1="577.10" x2="60.95" y2="578.70" stroke="#333" stroke-width="0.8" />
<text x="78.93" y="582.30" font-size="4.2" fill="#8a8a8a" text-anchor="middle">10<tspan font-size="2.8" dy="-1.5">3</tspan></text>
<line x1="78.93" y1="577.10" x2="78.93" y2="578.70" stroke="#333" stroke-width="0.8" />
<text x="96.90" y="582.30" font-size="4.2" fill="#8a8a8a" text-anchor="middle">10<tspan font-size="2.8" dy="-1.5">4</tspan></text>
<line x1="96.90" y1="577.10" x2="96.90" y2="578.70" stroke="#333" stroke-width="0.8" />
<line x1="24.20" y1="508.20" x2="24.20" y2="577.10" stroke="#222" stroke-width="0.9" stroke-dasharray="0.8 1.6"/>
<line x1="25.00" y1="578.00" x2="96.90" y2="578.00" stroke="#222" stroke-width="0.9" stroke-dasharray="0.8 1.6"/>
<rect x="25.00" y="508.20" width="71.90" height="68.90" fill="none" stroke="#111" stroke-width="1.25" />
<line x1="46.50" y1="508.20" x2="46.50" y2="577.10" stroke="#111" stroke-width="1.25" />
<line x1="25.00" y1="544.30" x2="96.90" y2="544.30" stroke="#111" stroke-width="1.25" />
<text x="107.20" y="578.30" font-size="4.2" fill="#8a8a8a" text-anchor="end">10<tspan font-size="2.8" dy="-1.5">0</tspan></text>
<line x1="107.80" y1="577.10" x2="109.40" y2="577.10" stroke="#333" stroke-width="0.8" />
<text x="107.20" y="561.08" font-size="4.2" fill="#8a8a8a" text-anchor="end">10<tspan font-size="2.8" dy="-1.5">1</tspan></text>
<line x1="107.80" y1="559.88" x2="109.40" y2="559.88" stroke="#333" stroke-width="0.8" />
<text x="107.20" y="543.85" font-size="4.2" fill="#8a8a8a" text-anchor="end">10<tspan font-size="2.8" dy="-1.5">2</tspan></text>
<line x1="107.80" y1="542.65" x2="109.40" y2="542.65" stroke="#333" stroke-width="0.8" />
<text x="107.20" y="526.62" font-size="4.2" fill="#8a8a8a" text-anchor="end">10<tspan font-size="2.8" dy="-1.5">3</tspan></text>
<line x1="107.80" y1="525.42" x2="109.40" y2="525.42" stroke="#333" stroke-width="0.8" />
<text x="107.20" y="509.40" font-size="4.2" fill="#8a8a8a" text-anchor="end">10<tspan font-size="2.8" dy="-1.5">4</tspan></text>
<line x1="107.80" y1="508.20" x2="109.40" y2="508.20" stroke="#333" stroke-width="0.8" />
<text x="109.40" y="582.30" font-size="4.2" fill="#8a8a8a" text-anchor="middle">10<tspan font-size="2.8" dy="-1.5">0</tspan></text>
<line x1="109.40" y1="577.10" x2="109.40" y2="578.70" stroke="#333" stroke-width="0.8" />
<text x="127.30" y="582.30" font-size="4.2" fill="#8a8a8a" text-anchor="middle">10<tspan font-size="2.8" dy="-1.5">1</tspan></text>
<line x1="127.30" y1="577.10" x2="127.30" y2="578.70" stroke="#333" stroke-width="0.8" />
<text x="145.20" y="582.30" font-size="4.2" fill="#8a8a8a" text-anchor="middle">10<tspan font-size="2.8" dy="-1.5">2</tspan></text>
<line x1="145.20" y1="577.10" x2="145.20" y2="578.70" stroke="#333" stroke-width="0.8" />
<text x="163.10" y="582.30" font-size="4.2" fill="#8a8a8a" text-anchor="middle">10<tspan font-size="2.8" dy="-1.5">3</tspan></text>
<line x1="163.10" y1="577.10" x2="163.10" y2="578.70" stroke="#333" stroke-width="0.8" />
<text x="181.00" y="582.30" font-size="4.2" fill="#8a8a8a" text-anchor="middle">10<tspan font-size="2.8" dy="-1.5">4</tspan></text>
<line x1="181.00" y1="577.10" x2="181.00" y2="578.70" stroke="#333" stroke-width="0.8" />
<line x1="108.60" y1="508.20" x2="108.60" y2="577.10" stroke="#222" stroke-width="0.9" stroke-dasharray="0.8 1.6"/>
<line x1="109.40" y1="578.00" x2="181.00" y2="578.00" stroke="#222" stroke-width="0.9" stroke-dasharray="0.8 1.6"/>
<rect x="109.40" y="508.20" width="71.60" height="68.90" fill="none" stroke="#111" stroke-width="1.25" />
<line x1="129.40" y1="508.20" x2="129.40" y2="577.10" stroke="#111" stroke-width="1.25" />
<line x1="109.40" y1="544.30" x2="181.00" y2="544.30" stroke="#111" stroke-width="1.25" />
<text x="22.80" y="657.90" font-size="4.2" fill="#8a8a8a" text-anchor="end">10<tspan font-size="2.8" dy="-1.5">0</tspan></text>
<line x1="23.40" y1="656.70" x2="25.00" y2="656.70" stroke="#333" stroke-width="0.8" />
<text x="22.80" y="640.80" font-size="4.2" fill="#8a8a8a" text-anchor="end">10<tspan font-size="2.8" dy="-1.5">1</tspan></text>
<line x1="23.40" y1="639.60" x2="25.00" y2="639.60" stroke="#333" stroke-width="0.8" />
<text x="22.80" y="623.70" font-size="4.2" fill="#8a8a8a" text-anchor="end">10<tspan font-size="2.8" dy="-1.5">2</tspan></text>
<line x1="23.40" y1="622.50" x2="25.00" y2="622.50" stroke="#333" stroke-width="0.8" />
<text x="22.80" y="606.60" font-size="4.2" fill="#8a8a8a" text-anchor="end">10<tspan font-size="2.8" dy="-1.5">3</tspan></text>
<line x1="23.40" y1="605.40" x2="25.00" y2="605.40" stroke="#333" stroke-width="0.8" />
<text x="22.80" y="589.50" font-size="4.2" fill="#8a8a8a" text-anchor="end">10<tspan font-size="2.8" dy="-1.5">4</tspan></text>
<line x1="23.40" y1="588.30" x2="25.00" y2="588.30" stroke="#333" stroke-width="0.8" />
<text x="25.00" y="661.90" font-size="4.2" fill="#8a8a8a" text-anchor="middle">10<tspan font-size="2.8" dy="-1.5">0</tspan></text>
<line x1="25.00" y1="656.70" x2="25.00" y2="658.30" stroke="#333" stroke-width="0.8" />
<text x="42.98" y="661.90" font-size="4.2" fill="#8a8a8a" text-anchor="middle">10<tspan font-size="2.8" dy="-1.5">1</tspan></text>
<line x1="42.98" y1="656.70" x2="42.98" y2="658.30" stroke="#333" stroke-width="0.8" />
<text x="60.95" y="661.90" font-size="4.2" fill="#8a8a8a" text-anchor="middle">10<tspan font-size="2.8" dy="-1.5">2</tspan></text>
<line x1="60.95" y1="656.70" x2="60.95" y2="658.30" stroke="#333" stroke-width="0.8" />
<text x="78.93" y="661.90" font-size="4.2" fill="#8a8a8a" text-anchor="middle">10<tspan font-size="2.8" dy="-1.5">3</tspan></text>
<line x1="78.93" y1="656.70" x2="78.93" y2="658.30" stroke="#333" stroke-width="0.8" />
<text x="96.90" y="661.90" font-size="4.2" fill="#8a8a8a" text-anchor="middle">10<tspan font-size="2.8" dy="-1.5">4</tspan></text>
<line x1="96.90" y1="656.70" x2="96.90" y2="658.30" stroke="#333" stroke-width="0.8" />
<line x1="24.20" y1="588.30" x2="24.20" y2="656.70" stroke="#222" stroke-width="0.9" stroke-dasharray="0.8 1.6"/>
<line x1="25.00" y1="657.60" x2="96.90" y2="657.60" stroke="#222" stroke-width="0.9" stroke-dasharray="0.8 1.6"/>
<rect x="25.00" y="588.30" width="71.90" height="68.40" fill="none" stroke="#111" stroke-width="1.25" />
<line x1="46.50" y1="588.30" x2="46.50" y2="656.70" stroke="#111" stroke-width="1.25" />
<line x1="25.00" y1="624.50" x2="96.90" y2="624.50" stroke="#111" stroke-width="1.25" />
<text x="107.20" y="657.90" font-size="4.2" fill="#8a8a8a" text-anchor="end">10<tspan font-size="2.8" dy="-1.5">0</tspan></text>
<line x1="107.80" y1="656.70" x2="109.40" y2="656.70" stroke="#333" stroke-width="0.8" />
<text x="107.20" y="640.80" font-size="4.2" fill="#8a8a8a" text-anchor="end">10<tspan font-size="2.8" dy="-1.5">1</tspan></text>
<line x1="107.80" y1="639.60" x2="109.40" y2="639.60" stroke="#333" stroke-width="0.8" />
<text x="107.20" y="623.70" font-size="4.2" fill="#8a8a8a" text-anchor="end">10<tspan font-size="2.8" dy="-1.5">2</tspan></text>
<line x1="107.80" y1="622.50" x2="109.40" y2="622.50" stroke="#333" stroke-width="0.8" />
<text x="107.20" y="606.60" font-size="4.2" fill="#8a8a8a" text-anchor="end">10<tspan font-size="2.8" dy="-1.5">3</tspan></text>
<line x1="107.80" y1="605.40" x2="109.40" y2="605.40" stroke="#333" stroke-width="0.8" />
<text x="107.20" y="589.50" font-size="4.2" fill="#8a8a8a" text-anchor="end">10<tspan font-size="2.8" dy="-1.5">4</tspan></text>
<line x1="107.80" y1="588.30" x2="109.40" y2="588.30" stroke="#333" stroke-width="0.8" />
<text x="109.40" y="661.90" font-size="4.2" fill="#8a8a8a" text-anchor="middle">10<tspan font-size="2.8" dy="-1.5">0</tspan></text>
<line x1="109.40" y1="656.70" x2="109.40" y2="658.30" stroke="#333" stroke-width="0.8" />
<text x="127.30" y="661.90" font-size="4.2" fill="#8a8a8a" text-anchor="middle">10<tspan font-size="2.8" dy="-1.5">1</tspan></text>
<line x1="127.30" y1="656.70" x2="127.30" y2="658.30" stroke="#333" stroke-width="0.8" />
<text x="145.20" y="661.90" font-size="4.2" fill="#8a8a8a" text-anchor="middle">10<tspan font-size="2.8" dy="-1.5">2</tspan></text>
<line x1="145.20" y1="656.70" x2="145.20" y2="658.30" stroke="#333" stroke-width="0.8" />
<text x="163.10" y="661.90" font-size="4.2" fill="#8a8a8a" text-anchor="middle">10<tspan font-size="2.8" dy="-1.5">3</tspan></text>
<line x1="163.10" y1="656.70" x2="163.10" y2="658.30" stroke="#333" stroke-width="0.8" />
<text x="181.00" y="661.90" font-size="4.2" fill="#8a8a8a" text-anchor="middle">10<tspan font-size="2.8" dy="-1.5">4</tspan></text>
<line x1="181.00" y1="656.70" x2="181.00" y2="658.30" stroke="#333" stroke-width="0.8" />
<line x1="108.60" y1="588.30" x2="108.60" y2="656.70" stroke="#222" stroke-width="0.9" stroke-dasharray="0.8 1.6"/>
<line x1="109.40" y1="657.60" x2="181.00" y2="657.60" stroke="#222" stroke-width="0.9" stroke-dasharray="0.8 1.6"/>
<rect x="109.40" y="588.30" width="71.60" height="68.40" fill="none" stroke="#111" stroke-width="1.25" />
<line x1="129.40" y1="588.30" x2="129.40" y2="656.70" stroke="#111" stroke-width="1.25" />
<line x1="109.40" y1="624.50" x2="181.00" y2="624.50" stroke="#111" stroke-width="1.25" />
<text x="22.80" y="738.30" font-size="4.2" fill="#8a8a8a" text-anchor="end">10<tspan font-size="2.8" dy="-1.5">0</tspan></text>
<line x1="23.40" y1="737.10" x2="25.00" y2="737.10" stroke="#333" stroke-width="0.8" />
<text x="22.80" y="721.08" font-size="4.2" fill="#8a8a8a" text-anchor="end">10<tspan font-size="2.8" dy="-1.5">1</tspan></text>
<line x1="23.40" y1="719.88" x2="25.00" y2="719.88" stroke="#333" stroke-width="0.8" />
<text x="22.80" y="703.85" font-size="4.2" fill="#8a8a8a" text-anchor="end">10<tspan font-size="2.8" dy="-1.5">2</tspan></text>
<line x1="23.40" y1="702.65" x2="25.00" y2="702.65" stroke="#333" stroke-width="0.8" />
<text x="22.80" y="686.63" font-size="4.2" fill="#8a8a8a" text-anchor="end">10<tspan font-size="2.8" dy="-1.5">3</tspan></text>
<line x1="23.40" y1="685.43" x2="25.00" y2="685.43" stroke="#333" stroke-width="0.8" />
<text x="22.80" y="669.40" font-size="4.2" fill="#8a8a8a" text-anchor="end">10<tspan font-size="2.8" dy="-1.5">4</tspan></text>
<line x1="23.40" y1="668.20" x2="25.00" y2="668.20" stroke="#333" stroke-width="0.8" />
<text x="25.00" y="742.30" font-size="4.2" fill="#8a8a8a" text-anchor="middle">10<tspan font-size="2.8" dy="-1.5">0</tspan></text>
<line x1="25.00" y1="737.10" x2="25.00" y2="738.70" stroke="#333" stroke-width="0.8" />
<text x="42.98" y="742.30" font-size="4.2" fill="#8a8a8a" text-anchor="middle">10<tspan font-size="2.8" dy="-1.5">1</tspan></text>
<line x1="42.98" y1="737.10" x2="42.98" y2="738.70" stroke="#333" stroke-width="0.8" />
<text x="60.95" y="742.30" font-size="4.2" fill="#8a8a8a" text-anchor="middle">10<tspan font-size="2.8" dy="-1.5">2</tspan></text>
<line x1="60.95" y1="737.10" x2="60.95" y2="738.70" stroke="#333" stroke-width="0.8" />
<text x="78.93" y="742.30" font-size="4.2" fill="#8a8a8a" text-anchor="middle">10<tspan font-size="2.8" dy="-1.5">3</tspan></text>
<line x1="78.93" y1="737.10" x2="78.93" y2="738.70" stroke="#333" stroke-width="0.8" />
<text x="96.90" y="742.30" font-size="4.2" fill="#8a8a8a" text-anchor="middle">10<tspan font-size="2.8" dy="-1.5">4</tspan></text>
<line x1="96.90" y1="737.10" x2="96.90" y2="738.70" stroke="#333" stroke-width="0.8" />
<line x1="24.20" y1="668.20" x2="24.20" y2="737.10" stroke="#222" stroke-width="0.9" stroke-dasharray="0.8 1.6"/>
<line x1="25.00" y1="738.00" x2="96.90" y2="738.00" stroke="#222" stroke-width="0.9" stroke-dasharray="0.8 1.6"/>
<rect x="25.00" y="668.20" width="71.90" height="68.90" fill="none" stroke="#111" stroke-width="1.25" />
<line x1="46.50" y1="668.20" x2="46.50" y2="737.10" stroke="#111" stroke-width="1.25" />
<line x1="25.00" y1="705.00" x2="96.90" y2="705.00" stroke="#111" stroke-width="1.25" />
<text x="107.20" y="738.30" font-size="4.2" fill="#8a8a8a" text-anchor="end">10<tspan font-size="2.8" dy="-1.5">0</tspan></text>
<line x1="107.80" y1="737.10" x2="109.40" y2="737.10" stroke="#333" stroke-width="0.8" />
<text x="107.20" y="721.08" font-size="4.2" fill="#8a8a8a" text-anchor="end">10<tspan font-size="2.8" dy="-1.5">1</tspan></text>
<line x1="107.80" y1="719.88" x2="109.40" y2="719.88" stroke="#333" stroke-width="0.8" />
<text x="107.20" y="703.85" font-size="4.2" fill="#8a8a8a" text-anchor="end">10<tspan font-size="2.8" dy="-1.5">2</tspan></text>
<line x1="107.80" y1="702.65" x2="109.40" y2="702.65" stroke="#333" stroke-width="0.8" />
<text x="107.20" y="686.63" font-size="4.2" fill="#8a8a8a" text-anchor="end">10<tspan font-size="2.8" dy="-1.5">3</tspan></text>
<line x1="107.80" y1="685.43" x2="109.40" y2="685.43" stroke="#333" stroke-width="0.8" />
<text x="107.20" y="669.40" font-size="4.2" fill="#8a8a8a" text-anchor="end">10<tspan font-size="2.8" dy="-1.5">4</tspan></text>
<line x1="107.80" y1="668.20" x2="109.40" y2="668.20" stroke="#333" stroke-width="0.8" />
<text x="109.40" y="742.30" font-size="4.2" fill="#8a8a8a" text-anchor="middle">10<tspan font-size="2.8" dy="-1.5">0</tspan></text>
<line x1="109.40" y1="737.10" x2="109.40" y2="738.70" stroke="#333" stroke-width="0.8" />
<text x="127.30" y="742.30" font-size="4.2" fill="#8a8a8a" text-anchor="middle">10<tspan font-size="2.8" dy="-1.5">1</tspan></text>
<line x1="127.30" y1="737.10" x2="127.30" y2="738.70" stroke="#333" stroke-width="0.8" />
<text x="145.20" y="742.30" font-size="4.2" fill="#8a8a8a" text-anchor="middle">10<tspan font-size="2.8" dy="-1.5">2</tspan></text>
<line x1="145.20" y1="737.10" x2="145.20" y2="738.70" stroke="#333" stroke-width="0.8" />
<text x="163.10" y="742.30" font-size="4.2" fill="#8a8a8a" text-anchor="middle">10<tspan font-size="2.8" dy="-1.5">3</tspan></text>
<line x1="163.10" y1="737.10" x2="163.10" y2="738.70" stroke="#333" stroke-width="0.8" />
<text x="181.00" y="742.30" font-size="4.2" fill="#8a8a8a" text-anchor="middle">10<tspan font-size="2.8" dy="-1.5">4</tspan></text>
<line x1="181.00" y1="737.10" x2="181.00" y2="738.70" stroke="#333" stroke-width="0.8" />
<line x1="108.60" y1="668.20" x2="108.60" y2="737.10" stroke="#222" stroke-width="0.9" stroke-dasharray="0.8 1.6"/>
<line x1="109.40" y1="738.00" x2="181.00" y2="738.00" stroke="#222" stroke-width="0.9" stroke-dasharray="0.8 1.6"/>
<rect x="109.40" y="668.20" width="71.60" height="68.90" fill="none" stroke="#111" stroke-width="1.25" />
<line x1="129.40" y1="668.20" x2="129.40" y2="737.10" stroke="#111" stroke-width="1.25" />
<line x1="109.40" y1="705.00" x2="181.00" y2="705.00" stroke="#111" stroke-width="1.25" />
<text x="28.80" y="440.90" font-size="10.6" font-weight="bold" text-anchor="start" fill="#0a0a0a" stroke="#0a0a0a" stroke-width="0.15" textLength="13.62" lengthAdjust="spacingAndGlyphs">5.7</text>
<text x="95.40" y="440.90" font-size="10.6" font-weight="bold" text-anchor="end" fill="#0a0a0a" stroke="#0a0a0a" stroke-width="0.15" textLength="19.07" lengthAdjust="spacingAndGlyphs">78.3</text>
<text x="96.00" y="478.50" font-size="10.6" font-weight="bold" text-anchor="end" fill="#0a0a0a" stroke="#0a0a0a" stroke-width="0.15" textLength="19.07" lengthAdjust="spacingAndGlyphs">10.8</text>
<text x="28.50" y="494.70" font-size="10.6" font-weight="bold" text-anchor="start" fill="#0a0a0a" stroke="#0a0a0a" stroke-width="0.15" textLength="13.62" lengthAdjust="spacingAndGlyphs">2.4</text>
<text x="112.00" y="440.90" font-size="10.6" font-weight="bold" text-anchor="start" fill="#0a0a0a" stroke="#0a0a0a" stroke-width="0.15" textLength="13.62" lengthAdjust="spacingAndGlyphs">3.7</text>
<text x="178.60" y="440.90" font-size="10.6" font-weight="bold" text-anchor="end" fill="#0a0a0a" stroke="#0a0a0a" stroke-width="0.15" textLength="19.07" lengthAdjust="spacingAndGlyphs">80.9</text>
<text x="179.00" y="478.50" font-size="10.6" font-weight="bold" text-anchor="end" fill="#0a0a0a" stroke="#0a0a0a" stroke-width="0.15" textLength="13.62" lengthAdjust="spacingAndGlyphs">8.6</text>
<text x="112.00" y="494.70" font-size="10.6" font-weight="bold" text-anchor="start" fill="#0a0a0a" stroke="#0a0a0a" stroke-width="0.15" textLength="13.62" lengthAdjust="spacingAndGlyphs">4.0</text>
<text x="26.60" y="519.90" font-size="10.6" font-weight="bold" text-anchor="start" fill="#0a0a0a" stroke="#0a0a0a" stroke-width="0.15" textLength="19.07" lengthAdjust="spacingAndGlyphs">13.6</text>
<text x="96.40" y="557.30" font-size="10.6" font-weight="bold" text-anchor="end" fill="#0a0a0a" stroke="#0a0a0a" stroke-width="0.15" textLength="19.07" lengthAdjust="spacingAndGlyphs">25.9</text>
<text x="111.80" y="519.90" font-size="10.6" font-weight="bold" text-anchor="start" fill="#0a0a0a" stroke="#0a0a0a" stroke-width="0.15" textLength="13.62" lengthAdjust="spacingAndGlyphs">2.7</text>
<text x="178.00" y="557.30" font-size="10.6" font-weight="bold" text-anchor="end" fill="#0a0a0a" stroke="#0a0a0a" stroke-width="0.15" textLength="13.62" lengthAdjust="spacingAndGlyphs">8.8</text>
<text x="25.60" y="599.90" font-size="10.6" font-weight="bold" text-anchor="start" fill="#0a0a0a" stroke="#0a0a0a" stroke-width="0.15" textLength="19.07" lengthAdjust="spacingAndGlyphs">35.2</text>
<text x="96.40" y="637.30" font-size="10.6" font-weight="bold" text-anchor="end" fill="#0a0a0a" stroke="#0a0a0a" stroke-width="0.15" textLength="19.07" lengthAdjust="spacingAndGlyphs">47.7</text>
<text x="109.60" y="599.90" font-size="10.6" font-weight="bold" text-anchor="start" fill="#0a0a0a" stroke="#0a0a0a" stroke-width="0.15" textLength="19.07" lengthAdjust="spacingAndGlyphs">14.7</text>
<text x="179.00" y="637.30" font-size="10.6" font-weight="bold" text-anchor="end" fill="#0a0a0a" stroke="#0a0a0a" stroke-width="0.15" textLength="19.07" lengthAdjust="spacingAndGlyphs">52.5</text>
<text x="26.60" y="679.90" font-size="10.6" font-weight="bold" text-anchor="start" fill="#0a0a0a" stroke="#0a0a0a" stroke-width="0.15" textLength="19.07" lengthAdjust="spacingAndGlyphs">15.7</text>
<text x="96.40" y="717.30" font-size="10.6" font-weight="bold" text-anchor="end" fill="#0a0a0a" stroke="#0a0a0a" stroke-width="0.15" textLength="19.07" lengthAdjust="spacingAndGlyphs">24.3</text>
<text x="111.80" y="679.90" font-size="10.6" font-weight="bold" text-anchor="start" fill="#0a0a0a" stroke="#0a0a0a" stroke-width="0.15" textLength="13.62" lengthAdjust="spacingAndGlyphs">3.0</text>
<text x="178.00" y="717.30" font-size="10.6" font-weight="bold" text-anchor="end" fill="#0a0a0a" stroke="#0a0a0a" stroke-width="0.15" textLength="13.62" lengthAdjust="spacingAndGlyphs">6.0</text>
<line x1="191.50" y1="463.80" x2="201.50" y2="463.80" stroke="#222" stroke-width="1.0" />
<line x1="254.00" y1="463.80" x2="265.60" y2="463.80" stroke="#222" stroke-width="1.0" />
<text x="209.80" y="467.30" font-size="10.2" font-weight="normal" text-anchor="start" fill="#111" >Thymus</text>
<line x1="191.20" y1="547.30" x2="202.10" y2="547.30" stroke="#222" stroke-width="1.0" />
<line x1="253.00" y1="547.30" x2="265.00" y2="547.30" stroke="#222" stroke-width="1.0" />
<text x="211.70" y="550.20" font-size="10.2" font-weight="normal" text-anchor="start" fill="#111" >Spleen</text>
<line x1="187.30" y1="624.40" x2="197.00" y2="624.40" stroke="#222" stroke-width="1.0" />
<line x1="259.80" y1="624.40" x2="270.40" y2="624.40" stroke="#222" stroke-width="1.0" />
<text x="198.80" y="628.30" font-size="10.2" font-weight="normal" text-anchor="start" fill="#111" >Lymph node</text>
<line x1="192.50" y1="705.00" x2="203.00" y2="705.00" stroke="#222" stroke-width="1.0" />
<line x1="254.00" y1="705.00" x2="265.60" y2="705.00" stroke="#222" stroke-width="1.0" />
<text x="214.60" y="709.20" font-size="10.2" font-weight="normal" text-anchor="start" fill="#111" >Blood</text>
<line x1="279.60" y1="435.20" x2="279.60" y2="519.60" stroke="#000" stroke-width="2.5" />
<path d="M274.80,435.70 L279.60,432.90 L284.40,435.70 Z" fill="#000"/>
<text transform="translate(285.0,648.0) rotate(-90)" font-size="11" textLength="122" lengthAdjust="spacingAndGlyphs">Cell number (x10<tspan font-size="7" dy="-4">6</tspan><tspan dy="4">) / Organ</tspan></text>
<text transform="translate(283.3,724.5) rotate(-90)" font-size="11" textLength="36.3" lengthAdjust="spacingAndGlyphs">Cell (%)</text>
<line x1="300.40" y1="434.20" x2="300.40" y2="500.80" stroke="#000" stroke-width="1.1" />
<line x1="299.90" y1="500.20" x2="400.00" y2="500.20" stroke="#000" stroke-width="1.3" />
<line x1="298.60" y1="434.20" x2="300.40" y2="434.20" stroke="#000" stroke-width="0.8" />
<text x="297.80" y="435.50" font-size="3.8" font-weight="normal" text-anchor="end" fill="#8c8c8c" >150</text>
<line x1="298.60" y1="456.30" x2="300.40" y2="456.30" stroke="#000" stroke-width="0.8" />
<text x="297.80" y="457.60" font-size="3.8" font-weight="normal" text-anchor="end" fill="#8c8c8c" >100</text>
<line x1="298.60" y1="478.70" x2="300.40" y2="478.70" stroke="#000" stroke-width="0.8" />
<text x="297.80" y="480.00" font-size="3.8" font-weight="normal" text-anchor="end" fill="#8c8c8c" >50</text>
<line x1="298.60" y1="500.20" x2="300.40" y2="500.20" stroke="#000" stroke-width="0.8" />
<text x="297.80" y="501.50" font-size="3.8" font-weight="normal" text-anchor="end" fill="#8c8c8c" >0</text>
<line x1="315.60" y1="452.50" x2="315.60" y2="461.20" stroke="#000" stroke-width="1.3" />
<line x1="311.40" y1="453.10" x2="319.80" y2="453.10" stroke="#000" stroke-width="1.3" />
<rect x="308.45" y="461.75" width="14.30" height="38.45" fill="#d2d2d2" stroke="#000" stroke-width="1.1" />
<line x1="338.80" y1="455.20" x2="338.80" y2="459.30" stroke="#000" stroke-width="1.3" />
<line x1="334.60" y1="455.80" x2="343.00" y2="455.80" stroke="#000" stroke-width="1.3" />
<rect x="331.95" y="459.85" width="13.70" height="40.35" fill="#878787" stroke="#000" stroke-width="1.1" />
<line x1="378.50" y1="499.60" x2="392.00" y2="499.60" stroke="#000" stroke-width="1.2" />
<path d="M312.50,447.20 L312.50,441.80 L340.80,441.80 L340.80,447.20" fill="none" stroke="#8a8a8a" stroke-width="1.0"/>
<text x="324.55" y="436.10" font-size="8.8" font-weight="normal" text-anchor="middle" fill="#111" stroke="#111" stroke-width="0.25" textLength="9.90" lengthAdjust="spacingAndGlyphs">NS</text>
<line x1="415.00" y1="433.70" x2="415.00" y2="500.60" stroke="#000" stroke-width="1.1" />
<line x1="414.50" y1="500.00" x2="514.00" y2="500.00" stroke="#000" stroke-width="1.3" />
<line x1="413.20" y1="433.70" x2="415.00" y2="433.70" stroke="#000" stroke-width="0.8" />
<text x="412.40" y="435.00" font-size="3.8" font-weight="normal" text-anchor="end" fill="#8c8c8c" >15</text>
<line x1="413.20" y1="456.20" x2="415.00" y2="456.20" stroke="#000" stroke-width="0.8" />
<text x="412.40" y="457.50" font-size="3.8" font-weight="normal" text-anchor="end" fill="#8c8c8c" >10</text>
<line x1="413.20" y1="479.20" x2="415.00" y2="479.20" stroke="#000" stroke-width="0.8" />
<text x="412.40" y="480.50" font-size="3.8" font-weight="normal" text-anchor="end" fill="#8c8c8c" >5</text>
<line x1="413.20" y1="500.00" x2="415.00" y2="500.00" stroke="#000" stroke-width="0.8" />
<text x="412.40" y="501.30" font-size="3.8" font-weight="normal" text-anchor="end" fill="#8c8c8c" >0</text>
<line x1="430.60" y1="453.70" x2="430.60" y2="460.50" stroke="#000" stroke-width="1.3" />
<line x1="426.40" y1="454.30" x2="434.80" y2="454.30" stroke="#000" stroke-width="1.3" />
<rect x="423.55" y="461.05" width="14.10" height="38.95" fill="#d2d2d2" stroke="#000" stroke-width="1.1" />
<line x1="453.35" y1="461.70" x2="453.35" y2="465.50" stroke="#000" stroke-width="1.3" />
<line x1="449.15" y1="462.30" x2="457.55" y2="462.30" stroke="#000" stroke-width="1.3" />
<rect x="446.05" y="466.05" width="14.60" height="33.95" fill="#878787" stroke="#000" stroke-width="1.1" />
<line x1="476.45" y1="475.50" x2="476.45" y2="479.20" stroke="#000" stroke-width="1.3" />
<line x1="472.25" y1="476.10" x2="480.65" y2="476.10" stroke="#000" stroke-width="1.3" />
<rect x="469.25" y="479.75" width="14.40" height="20.25" fill="#242424" stroke="#000" stroke-width="1.1" />
<line x1="499.60" y1="485.00" x2="499.60" y2="485.50" stroke="#000" stroke-width="1.3" />
<line x1="495.40" y1="485.60" x2="503.80" y2="485.60" stroke="#000" stroke-width="1.3" />
<rect x="492.25" y="486.05" width="14.70" height="13.95" fill="#030303" stroke="#000" stroke-width="1.1" />
<path d="M428.20,448.00 L428.20,442.50 L456.70,442.50 L456.70,448.00" fill="none" stroke="#8a8a8a" stroke-width="1.0"/>
<text x="440.35" y="437.00" font-size="8.8" font-weight="normal" text-anchor="middle" fill="#111" stroke="#111" stroke-width="0.25" textLength="9.90" lengthAdjust="spacingAndGlyphs">NS</text>
<path d="M474.50,467.00 L474.50,461.70 L502.50,461.70 L502.50,467.00" fill="none" stroke="#8a8a8a" stroke-width="1.0"/>
<text x="486.40" y="455.70" font-size="8.8" font-weight="normal" text-anchor="middle" fill="#111" stroke="#111" stroke-width="0.25" textLength="9.90" lengthAdjust="spacingAndGlyphs">NS</text>
<line x1="299.50" y1="513.00" x2="299.50" y2="580.10" stroke="#000" stroke-width="1.1" />
<line x1="299.00" y1="579.50" x2="400.00" y2="579.50" stroke="#000" stroke-width="1.3" />
<line x1="297.70" y1="513.00" x2="299.50" y2="513.00" stroke="#000" stroke-width="0.8" />
<text x="296.90" y="514.30" font-size="3.8" font-weight="normal" text-anchor="end" fill="#8c8c8c" >150</text>
<line x1="297.70" y1="535.50" x2="299.50" y2="535.50" stroke="#000" stroke-width="0.8" />
<text x="296.90" y="536.80" font-size="3.8" font-weight="normal" text-anchor="end" fill="#8c8c8c" >100</text>
<line x1="297.70" y1="558.00" x2="299.50" y2="558.00" stroke="#000" stroke-width="0.8" />
<text x="296.90" y="559.30" font-size="3.8" font-weight="normal" text-anchor="end" fill="#8c8c8c" >50</text>
<line x1="297.70" y1="579.50" x2="299.50" y2="579.50" stroke="#000" stroke-width="0.8" />
<text x="296.90" y="580.80" font-size="3.8" font-weight="normal" text-anchor="end" fill="#8c8c8c" >0</text>
<line x1="315.00" y1="534.50" x2="315.00" y2="543.70" stroke="#000" stroke-width="1.3" />
<line x1="310.80" y1="535.10" x2="319.20" y2="535.10" stroke="#000" stroke-width="1.3" />
<rect x="308.05" y="544.25" width="13.90" height="35.25" fill="#d2d2d2" stroke="#000" stroke-width="1.1" />
<line x1="338.00" y1="547.00" x2="338.00" y2="550.00" stroke="#000" stroke-width="1.3" />
<line x1="333.80" y1="547.60" x2="342.20" y2="547.60" stroke="#000" stroke-width="1.3" />
<rect x="331.05" y="550.55" width="13.90" height="28.95" fill="#878787" stroke="#000" stroke-width="1.1" />
<line x1="360.70" y1="557.50" x2="360.70" y2="562.00" stroke="#000" stroke-width="1.3" />
<line x1="356.50" y1="558.10" x2="364.90" y2="558.10" stroke="#000" stroke-width="1.3" />
<rect x="353.75" y="562.55" width="13.90" height="16.95" fill="#242424" stroke="#000" stroke-width="1.1" />
<line x1="383.35" y1="557.50" x2="383.35" y2="559.20" stroke="#000" stroke-width="1.3" />
<line x1="379.15" y1="558.10" x2="387.55" y2="558.10" stroke="#000" stroke-width="1.3" />
<rect x="376.05" y="559.75" width="14.60" height="19.75" fill="#030303" stroke="#000" stroke-width="1.1" />
<path d="M313.70,529.50 L313.70,523.70 L341.70,523.70 L341.70,529.50" fill="none" stroke="#8a8a8a" stroke-width="1.0"/>
<text x="325.60" y="518.20" font-size="8.8" font-weight="normal" text-anchor="middle" fill="#111" stroke="#111" stroke-width="0.25" textLength="9.90" lengthAdjust="spacingAndGlyphs">NS</text>
<path d="M358.70,550.00 L358.70,545.00 L386.20,545.00 L386.20,550.00" fill="none" stroke="#8a8a8a" stroke-width="1.0"/>
<text x="370.35" y="539.50" font-size="8.8" font-weight="normal" text-anchor="middle" fill="#111" stroke="#111" stroke-width="0.25" textLength="9.90" lengthAdjust="spacingAndGlyphs">NS</text>
<line x1="415.00" y1="510.50" x2="415.00" y2="576.80" stroke="#000" stroke-width="1.1" />
<line x1="414.50" y1="576.20" x2="514.00" y2="576.20" stroke="#000" stroke-width="1.3" />
<line x1="413.20" y1="510.50" x2="415.00" y2="510.50" stroke="#000" stroke-width="0.8" />
<text x="412.40" y="511.80" font-size="3.8" font-weight="normal" text-anchor="end" fill="#8c8c8c" >30</text>
<line x1="413.20" y1="521.70" x2="415.00" y2="521.70" stroke="#000" stroke-width="0.8" />
<text x="412.40" y="523.00" font-size="3.8" font-weight="normal" text-anchor="end" fill="#8c8c8c" >25</text>
<line x1="413.20" y1="532.50" x2="415.00" y2="532.50" stroke="#000" stroke-width="0.8" />
<text x="412.40" y="533.80" font-size="3.8" font-weight="normal" text-anchor="end" fill="#8c8c8c" >20</text>
<line x1="413.20" y1="543.20" x2="415.00" y2="543.20" stroke="#000" stroke-width="0.8" />
<text x="412.40" y="544.50" font-size="3.8" font-weight="normal" text-anchor="end" fill="#8c8c8c" >15</text>
<line x1="413.20" y1="554.20" x2="415.00" y2="554.20" stroke="#000" stroke-width="0.8" />
<text x="412.40" y="555.50" font-size="3.8" font-weight="normal" text-anchor="end" fill="#8c8c8c" >10</text>
<line x1="413.20" y1="565.00" x2="415.00" y2="565.00" stroke="#000" stroke-width="0.8" />
<text x="412.40" y="566.30" font-size="3.8" font-weight="normal" text-anchor="end" fill="#8c8c8c" >5</text>
<line x1="413.20" y1="576.20" x2="415.00" y2="576.20" stroke="#000" stroke-width="0.8" />
<text x="412.40" y="577.50" font-size="3.8" font-weight="normal" text-anchor="end" fill="#8c8c8c" >0</text>
<line x1="430.00" y1="519.50" x2="430.00" y2="530.50" stroke="#000" stroke-width="1.3" />
<line x1="425.80" y1="520.10" x2="434.20" y2="520.10" stroke="#000" stroke-width="1.3" />
<rect x="423.05" y="531.05" width="13.90" height="45.15" fill="#d2d2d2" stroke="#000" stroke-width="1.1" />
<line x1="453.00" y1="557.00" x2="453.00" y2="562.00" stroke="#000" stroke-width="1.3" />
<line x1="448.80" y1="557.60" x2="457.20" y2="557.60" stroke="#000" stroke-width="1.3" />
<rect x="446.05" y="562.55" width="13.90" height="13.65" fill="#878787" stroke="#000" stroke-width="1.1" />
<line x1="475.70" y1="547.50" x2="475.70" y2="552.50" stroke="#000" stroke-width="1.3" />
<line x1="471.50" y1="548.10" x2="479.90" y2="548.10" stroke="#000" stroke-width="1.3" />
<rect x="468.75" y="553.05" width="13.90" height="23.15" fill="#242424" stroke="#000" stroke-width="1.1" />
<line x1="498.70" y1="568.70" x2="498.70" y2="571.20" stroke="#000" stroke-width="1.3" />
<line x1="494.50" y1="569.30" x2="502.90" y2="569.30" stroke="#000" stroke-width="1.3" />
<rect x="491.75" y="571.75" width="13.90" height="4.45" fill="#030303" stroke="#000" stroke-width="1.1" />
<path d="M450.70,548.20 L450.70,545.10 M450.70,548.20 L453.65,547.24 M450.70,548.20 L452.52,550.71 M450.70,548.20 L448.88,550.71 M450.70,548.20 L447.75,547.24 " stroke="#000" stroke-width="1.7" stroke-linecap="round" fill="none"/>
<path d="M498.70,562.50 L498.70,559.40 M498.70,562.50 L501.65,561.54 M498.70,562.50 L500.52,565.01 M498.70,562.50 L496.88,565.01 M498.70,562.50 L495.75,561.54 " stroke="#000" stroke-width="1.7" stroke-linecap="round" fill="none"/>
<line x1="300.00" y1="589.20" x2="300.00" y2="655.60" stroke="#000" stroke-width="1.1" />
<line x1="299.50" y1="655.00" x2="400.00" y2="655.00" stroke="#000" stroke-width="1.3" />
<line x1="298.20" y1="589.20" x2="300.00" y2="589.20" stroke="#000" stroke-width="0.8" />
<text x="297.40" y="590.50" font-size="3.8" font-weight="normal" text-anchor="end" fill="#8c8c8c" >10.0</text>
<line x1="298.20" y1="605.70" x2="300.00" y2="605.70" stroke="#000" stroke-width="0.8" />
<text x="297.40" y="607.00" font-size="3.8" font-weight="normal" text-anchor="end" fill="#8c8c8c" >7.5</text>
<line x1="298.20" y1="622.50" x2="300.00" y2="622.50" stroke="#000" stroke-width="0.8" />
<text x="297.40" y="623.80" font-size="3.8" font-weight="normal" text-anchor="end" fill="#8c8c8c" >5.0</text>
<line x1="298.20" y1="638.70" x2="300.00" y2="638.70" stroke="#000" stroke-width="0.8" />
<text x="297.40" y="640.00" font-size="3.8" font-weight="normal" text-anchor="end" fill="#8c8c8c" >2.5</text>
<line x1="298.20" y1="655.00" x2="300.00" y2="655.00" stroke="#000" stroke-width="0.8" />
<text x="297.40" y="656.30" font-size="3.8" font-weight="normal" text-anchor="end" fill="#8c8c8c" >0.0</text>
<line x1="315.00" y1="592.00" x2="315.00" y2="603.00" stroke="#000" stroke-width="1.3" />
<line x1="310.80" y1="592.60" x2="319.20" y2="592.60" stroke="#000" stroke-width="1.3" />
<rect x="308.05" y="603.55" width="13.90" height="51.45" fill="#d2d2d2" stroke="#000" stroke-width="1.1" />
<line x1="337.75" y1="625.00" x2="337.75" y2="629.20" stroke="#000" stroke-width="1.3" />
<line x1="333.55" y1="625.60" x2="341.95" y2="625.60" stroke="#000" stroke-width="1.3" />
<rect x="330.55" y="629.75" width="14.40" height="25.25" fill="#878787" stroke="#000" stroke-width="1.1" />
<line x1="360.35" y1="646.70" x2="360.35" y2="648.00" stroke="#000" stroke-width="1.3" />
<line x1="356.15" y1="647.30" x2="364.55" y2="647.30" stroke="#000" stroke-width="1.3" />
<rect x="353.05" y="648.55" width="14.60" height="6.45" fill="#242424" stroke="#000" stroke-width="1.1" />
<line x1="383.10" y1="641.70" x2="383.10" y2="643.70" stroke="#000" stroke-width="1.3" />
<line x1="378.90" y1="642.30" x2="387.30" y2="642.30" stroke="#000" stroke-width="1.3" />
<rect x="375.55" y="644.25" width="15.10" height="10.75" fill="#030303" stroke="#000" stroke-width="1.1" />
<path d="M337.00,616.20 L337.00,613.10 M337.00,616.20 L339.95,615.24 M337.00,616.20 L338.82,618.71 M337.00,616.20 L335.18,618.71 M337.00,616.20 L334.05,615.24 " stroke="#000" stroke-width="1.7" stroke-linecap="round" fill="none"/>
<path d="M358.20,633.20 L358.20,627.50 L386.20,627.50 L386.20,633.20" fill="none" stroke="#8a8a8a" stroke-width="1.0"/>
<text x="370.10" y="622.00" font-size="8.8" font-weight="normal" text-anchor="middle" fill="#111" stroke="#111" stroke-width="0.25" textLength="9.90" lengthAdjust="spacingAndGlyphs">NS</text>
<line x1="415.00" y1="588.70" x2="415.00" y2="655.60" stroke="#000" stroke-width="1.1" />
<line x1="414.50" y1="655.00" x2="514.00" y2="655.00" stroke="#000" stroke-width="1.3" />
<line x1="413.20" y1="588.70" x2="415.00" y2="588.70" stroke="#000" stroke-width="0.8" />
<text x="412.40" y="590.00" font-size="3.8" font-weight="normal" text-anchor="end" fill="#8c8c8c" >5</text>
<line x1="413.20" y1="602.50" x2="415.00" y2="602.50" stroke="#000" stroke-width="0.8" />
<text x="412.40" y="603.80" font-size="3.8" font-weight="normal" text-anchor="end" fill="#8c8c8c" >4</text>
<line x1="413.20" y1="615.70" x2="415.00" y2="615.70" stroke="#000" stroke-width="0.8" />
<text x="412.40" y="617.00" font-size="3.8" font-weight="normal" text-anchor="end" fill="#8c8c8c" >3</text>
<line x1="413.20" y1="628.70" x2="415.00" y2="628.70" stroke="#000" stroke-width="0.8" />
<text x="412.40" y="630.00" font-size="3.8" font-weight="normal" text-anchor="end" fill="#8c8c8c" >2</text>
<line x1="413.20" y1="642.00" x2="415.00" y2="642.00" stroke="#000" stroke-width="0.8" />
<text x="412.40" y="643.30" font-size="3.8" font-weight="normal" text-anchor="end" fill="#8c8c8c" >1</text>
<line x1="413.20" y1="655.00" x2="415.00" y2="655.00" stroke="#000" stroke-width="0.8" />
<text x="412.40" y="656.30" font-size="3.8" font-weight="normal" text-anchor="end" fill="#8c8c8c" >0</text>
<line x1="430.00" y1="595.50" x2="430.00" y2="605.50" stroke="#000" stroke-width="1.3" />
<line x1="425.80" y1="596.10" x2="434.20" y2="596.10" stroke="#000" stroke-width="1.3" />
<rect x="423.05" y="606.05" width="13.90" height="48.95" fill="#d2d2d2" stroke="#000" stroke-width="1.1" />
<line x1="453.00" y1="635.50" x2="453.00" y2="639.50" stroke="#000" stroke-width="1.3" />
<line x1="448.80" y1="636.10" x2="457.20" y2="636.10" stroke="#000" stroke-width="1.3" />
<rect x="446.05" y="640.05" width="13.90" height="14.95" fill="#878787" stroke="#000" stroke-width="1.1" />
<line x1="475.70" y1="611.70" x2="475.70" y2="618.70" stroke="#000" stroke-width="1.3" />
<line x1="471.50" y1="612.30" x2="479.90" y2="612.30" stroke="#000" stroke-width="1.3" />
<rect x="468.75" y="619.25" width="13.90" height="35.75" fill="#242424" stroke="#000" stroke-width="1.1" />
<line x1="498.70" y1="643.20" x2="498.70" y2="646.70" stroke="#000" stroke-width="1.3" />
<line x1="494.50" y1="643.80" x2="502.90" y2="643.80" stroke="#000" stroke-width="1.3" />
<rect x="491.75" y="647.25" width="13.90" height="7.75" fill="#030303" stroke="#000" stroke-width="1.1" />
<path d="M450.70,626.70 L450.70,623.60 M450.70,626.70 L453.65,625.74 M450.70,626.70 L452.52,629.21 M450.70,626.70 L448.88,629.21 M450.70,626.70 L447.75,625.74 " stroke="#000" stroke-width="1.7" stroke-linecap="round" fill="none"/>
<path d="M497.50,638.70 L497.50,635.60 M497.50,638.70 L500.45,637.74 M497.50,638.70 L499.32,641.21 M497.50,638.70 L495.68,641.21 M497.50,638.70 L494.55,637.74 " stroke="#000" stroke-width="1.7" stroke-linecap="round" fill="none"/>
<line x1="299.80" y1="669.40" x2="299.80" y2="736.00" stroke="#000" stroke-width="1.1" />
<line x1="299.30" y1="735.40" x2="400.00" y2="735.40" stroke="#000" stroke-width="1.3" />
<line x1="298.00" y1="669.40" x2="299.80" y2="669.40" stroke="#000" stroke-width="0.8" />
<text x="297.20" y="670.70" font-size="3.8" font-weight="normal" text-anchor="end" fill="#8c8c8c" >75</text>
<line x1="298.00" y1="692.30" x2="299.80" y2="692.30" stroke="#000" stroke-width="0.8" />
<text x="297.20" y="693.60" font-size="3.8" font-weight="normal" text-anchor="end" fill="#8c8c8c" >50</text>
<line x1="298.00" y1="713.80" x2="299.80" y2="713.80" stroke="#000" stroke-width="0.8" />
<text x="297.20" y="715.10" font-size="3.8" font-weight="normal" text-anchor="end" fill="#8c8c8c" >25</text>
<line x1="298.00" y1="735.40" x2="299.80" y2="735.40" stroke="#000" stroke-width="0.8" />
<text x="297.20" y="736.70" font-size="3.8" font-weight="normal" text-anchor="end" fill="#8c8c8c" >0</text>
<line x1="360.70" y1="695.50" x2="360.70" y2="699.00" stroke="#000" stroke-width="1.3" />
<line x1="356.50" y1="696.10" x2="364.90" y2="696.10" stroke="#000" stroke-width="1.3" />
<rect x="353.45" y="699.55" width="14.50" height="35.85" fill="#242424" stroke="#000" stroke-width="1.1" />
<line x1="383.90" y1="673.50" x2="383.90" y2="676.70" stroke="#000" stroke-width="1.3" />
<line x1="379.70" y1="674.10" x2="388.10" y2="674.10" stroke="#000" stroke-width="1.3" />
<rect x="376.35" y="677.25" width="15.10" height="58.15" fill="#030303" stroke="#000" stroke-width="1.1" />
<path d="M383.90,664.80 L383.90,661.70 M383.90,664.80 L386.85,663.84 M383.90,664.80 L385.72,667.31 M383.90,664.80 L382.08,667.31 M383.90,664.80 L380.95,663.84 " stroke="#000" stroke-width="1.7" stroke-linecap="round" fill="none"/>
<line x1="415.00" y1="669.50" x2="415.00" y2="736.10" stroke="#000" stroke-width="1.1" />
<line x1="414.50" y1="735.50" x2="514.00" y2="735.50" stroke="#000" stroke-width="1.3" />
<line x1="413.20" y1="669.50" x2="415.00" y2="669.50" stroke="#000" stroke-width="0.8" />
<text x="412.40" y="670.80" font-size="3.8" font-weight="normal" text-anchor="end" fill="#8c8c8c" >30</text>
<line x1="413.20" y1="691.70" x2="415.00" y2="691.70" stroke="#000" stroke-width="0.8" />
<text x="412.40" y="693.00" font-size="3.8" font-weight="normal" text-anchor="end" fill="#8c8c8c" >20</text>
<line x1="413.20" y1="713.70" x2="415.00" y2="713.70" stroke="#000" stroke-width="0.8" />
<text x="412.40" y="715.00" font-size="3.8" font-weight="normal" text-anchor="end" fill="#8c8c8c" >10</text>
<line x1="413.20" y1="735.50" x2="415.00" y2="735.50" stroke="#000" stroke-width="0.8" />
<text x="412.40" y="736.80" font-size="3.8" font-weight="normal" text-anchor="end" fill="#8c8c8c" >0</text>
<line x1="430.00" y1="676.70" x2="430.00" y2="682.50" stroke="#000" stroke-width="1.3" />
<line x1="425.80" y1="677.30" x2="434.20" y2="677.30" stroke="#000" stroke-width="1.3" />
<rect x="423.05" y="683.05" width="13.90" height="52.45" fill="#d2d2d2" stroke="#000" stroke-width="1.1" />
<line x1="453.00" y1="718.70" x2="453.00" y2="722.50" stroke="#000" stroke-width="1.3" />
<line x1="448.80" y1="719.30" x2="457.20" y2="719.30" stroke="#000" stroke-width="1.3" />
<rect x="446.05" y="723.05" width="13.90" height="12.45" fill="#878787" stroke="#000" stroke-width="1.1" />
<line x1="475.70" y1="699.20" x2="475.70" y2="701.20" stroke="#000" stroke-width="1.3" />
<line x1="471.50" y1="699.80" x2="479.90" y2="699.80" stroke="#000" stroke-width="1.3" />
<rect x="468.75" y="701.75" width="13.90" height="33.75" fill="#242424" stroke="#000" stroke-width="1.1" />
<line x1="498.70" y1="726.20" x2="498.70" y2="729.50" stroke="#000" stroke-width="1.3" />
<line x1="494.50" y1="726.80" x2="502.90" y2="726.80" stroke="#000" stroke-width="1.3" />
<rect x="491.75" y="730.05" width="13.90" height="5.45" fill="#030303" stroke="#000" stroke-width="1.1" />
<path d="M450.70,709.20 L450.70,706.10 M450.70,709.20 L453.65,708.24 M450.70,709.20 L452.52,711.71 M450.70,709.20 L448.88,711.71 M450.70,709.20 L447.75,708.24 " stroke="#000" stroke-width="1.7" stroke-linecap="round" fill="none"/>
<path d="M497.50,719.20 L497.50,716.10 M497.50,719.20 L500.45,718.24 M497.50,719.20 L499.32,721.71 M497.50,719.20 L495.68,721.71 M497.50,719.20 L494.55,718.24 " stroke="#000" stroke-width="1.7" stroke-linecap="round" fill="none"/>
<text x="264.00" y="749.70" font-size="10.8" font-weight="normal" text-anchor="start" fill="#111"  textLength="37.70" lengthAdjust="spacingAndGlyphs">LCKCre</text>
<text x="313.85" y="748.50" font-size="10.2" font-weight="normal" text-anchor="middle" fill="#111" >(-)</text>
<text x="337.45" y="748.50" font-size="10.2" font-weight="normal" text-anchor="middle" fill="#111" >(+)</text>
<text x="359.90" y="748.50" font-size="10.2" font-weight="normal" text-anchor="middle" fill="#111" >(-)</text>
<text x="384.55" y="748.50" font-size="10.2" font-weight="normal" text-anchor="middle" fill="#111" >(+)</text>
<text x="429.10" y="748.50" font-size="10.2" font-weight="normal" text-anchor="middle" fill="#111" >(-)</text>
<text x="451.25" y="748.50" font-size="10.2" font-weight="normal" text-anchor="middle" fill="#111" >(+)</text>
<text x="475.50" y="748.50" font-size="10.2" font-weight="normal" text-anchor="middle" fill="#111" >(-)</text>
<text x="499.25" y="748.50" font-size="10.2" font-weight="normal" text-anchor="middle" fill="#111" >(+)</text>
<line x1="304.40" y1="753.30" x2="345.60" y2="753.30" stroke="#222" stroke-width="1.0" />
<text x="325.00" y="764.90" font-size="9.7" text-anchor="middle" fill="#111">Total</text>
<text x="325.00" y="776.50" font-size="9.7" text-anchor="middle" fill="#111">cells</text>
<line x1="352.90" y1="753.30" x2="393.30" y2="753.30" stroke="#222" stroke-width="1.0" />
<text x="373.10" y="764.90" font-size="9.7" text-anchor="middle" fill="#111">B220<tspan font-size="6" dy="-3.6">+</tspan></text>
<line x1="420.00" y1="753.30" x2="462.00" y2="753.30" stroke="#222" stroke-width="1.0" />
<text x="441.00" y="764.90" font-size="9.7" text-anchor="middle" fill="#111">CD4<tspan font-size="6" dy="-3.6">+</tspan></text>
<line x1="467.00" y1="753.30" x2="508.70" y2="753.30" stroke="#222" stroke-width="1.0" />
<text x="487.85" y="764.90" font-size="9.7" text-anchor="middle" fill="#111">CD8<tspan font-size="6" dy="-3.6">+</tspan></text>
</svg>
</body></html>
